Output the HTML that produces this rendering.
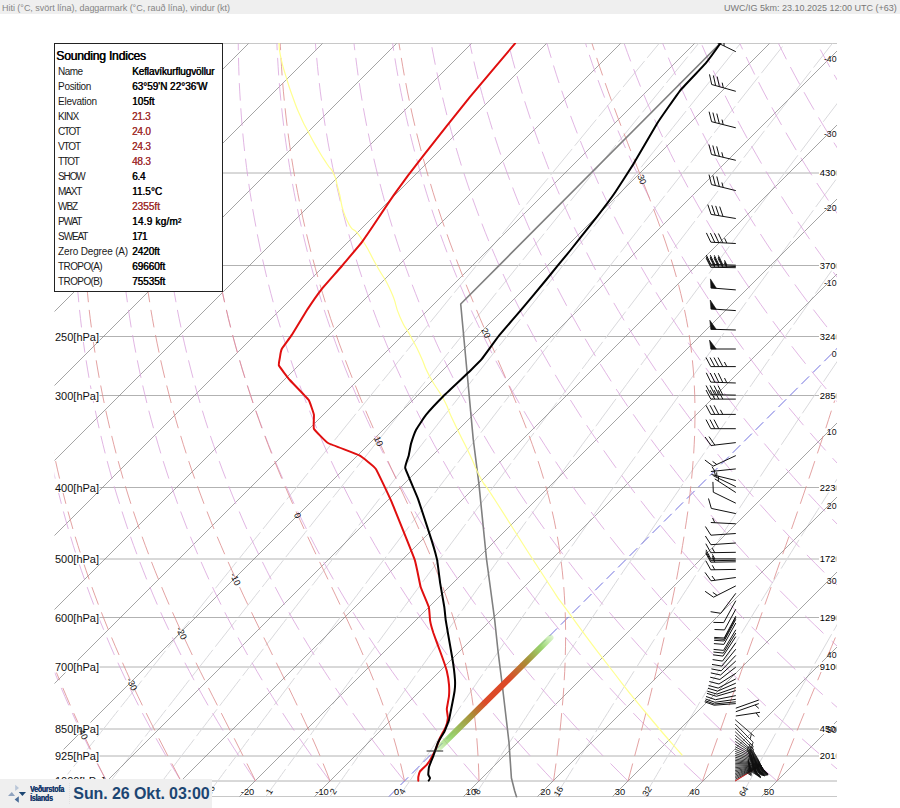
<!DOCTYPE html>
<html><head><meta charset="utf-8"><title>Skew-T</title>
<style>
html,body{margin:0;padding:0;background:#fff;}
body{width:900px;height:808px;position:relative;overflow:hidden;font-family:"Liberation Sans",sans-serif;}
#top{position:absolute;left:0;top:0;width:900px;height:14px;background:#efefef;}
#top span{position:absolute;font-size:9px;line-height:12px;white-space:nowrap;}
#top .l{left:2px;top:1.58px;color:#858585;letter-spacing:-0.029px;}
#top .r{left:724px;top:1.58px;color:#777;letter-spacing:-0.001px;}
svg{position:absolute;left:0;top:0;}
#box{position:absolute;left:54px;top:43px;width:166.5px;height:246.6px;border:1px solid #222;background:#fff;}
.t{position:absolute;white-space:nowrap;font-size:10px;line-height:15px;color:#1a1a1a;}
.t.v{color:#000;text-shadow:0.5px 0 0 #000;}
.t.v.r{color:#a03030;text-shadow:0.3px 0 0 #a03030;}
.t.ttl{font-size:12.2px;line-height:16px;color:#000;text-shadow:0.5px 0 0 #000;}
#foot{position:absolute;left:0;top:779.3px;width:212px;height:29px;background:#efefef;}
#foot .n{position:absolute;left:30px;top:5.7px;font-size:8.6px;line-height:9.4px;font-weight:bold;color:#15396a;text-shadow:0.3px 0 0 #15396a;letter-spacing:-0.3px;transform:scaleX(0.82);transform-origin:0 0;white-space:nowrap;}
#foot .d{position:absolute;left:73.3px;top:4.46px;font-size:16px;line-height:20px;font-weight:bold;color:#1c4673;white-space:nowrap;letter-spacing:-0.085px;}
#foot .sep{position:absolute;left:69px;top:4px;height:21px;width:0;border-left:1px dotted #e0e0e0;}
</style></head><body>
<div id="top"><span class="l">Hiti (°C, svört lína), daggarmark (°C, rauð lína), vindur (kt)</span><span class="r">UWC/IG 5km: 23.10.2025 12:00 UTC (+63)</span></div>
<svg width="900" height="808" viewBox="0 0 900 808">
<defs>
<clipPath id="pc"><rect x="54.5" y="43" width="782.5" height="754.5"/></clipPath>
<clipPath id="pc2"><rect x="54.5" y="43" width="822.5" height="754.5"/></clipPath>
<clipPath id="pc3"><rect x="800" y="40" width="36.3" height="760"/></clipPath>
<clipPath id="bands"><rect x="54.5" y="763.5" width="782.5" height="17.5"/><rect x="54.5" y="738.3" width="782.5" height="17.5"/><rect x="54.5" y="713.1" width="782.5" height="17.5"/><rect x="54.5" y="687.9" width="782.5" height="17.5"/><rect x="54.5" y="662.7" width="782.5" height="17.5"/><rect x="54.5" y="637.5" width="782.5" height="17.5"/><rect x="54.5" y="612.3" width="782.5" height="17.5"/><rect x="54.5" y="587.1" width="782.5" height="17.5"/><rect x="54.5" y="561.9" width="782.5" height="17.5"/><rect x="54.5" y="536.7" width="782.5" height="17.5"/><rect x="54.5" y="511.5" width="782.5" height="17.5"/><rect x="54.5" y="486.3" width="782.5" height="17.5"/><rect x="54.5" y="461.1" width="782.5" height="17.5"/><rect x="54.5" y="435.9" width="782.5" height="17.5"/><rect x="54.5" y="410.7" width="782.5" height="17.5"/><rect x="54.5" y="385.5" width="782.5" height="17.5"/><rect x="54.5" y="360.3" width="782.5" height="17.5"/><rect x="54.5" y="335.1" width="782.5" height="17.5"/><rect x="54.5" y="309.9" width="782.5" height="17.5"/><rect x="54.5" y="284.7" width="782.5" height="17.5"/><rect x="54.5" y="259.5" width="782.5" height="17.5"/><rect x="54.5" y="234.3" width="782.5" height="17.5"/><rect x="54.5" y="209.1" width="782.5" height="17.5"/><rect x="54.5" y="183.9" width="782.5" height="17.5"/><rect x="54.5" y="158.7" width="782.5" height="17.5"/><rect x="54.5" y="133.5" width="782.5" height="17.5"/><rect x="54.5" y="108.3" width="782.5" height="17.5"/><rect x="54.5" y="83.1" width="782.5" height="17.5"/><rect x="54.5" y="57.9" width="782.5" height="17.5"/><rect x="54.5" y="43.5" width="782.5" height="6.7"/></clipPath>
<linearGradient id="gr" gradientUnits="userSpaceOnUse" x1="436.7" y1="750.3" x2="552.6" y2="635.6">
<stop offset="0" stop-color="#9be070" stop-opacity="0.35"/>
<stop offset="0.12" stop-color="#8fd060" stop-opacity="0.9"/>
<stop offset="0.3" stop-color="#a89038"/>
<stop offset="0.42" stop-color="#dc4a28"/>
<stop offset="0.62" stop-color="#dc4a28"/>
<stop offset="0.78" stop-color="#a89038"/>
<stop offset="0.9" stop-color="#8fd060" stop-opacity="0.9"/>
<stop offset="1" stop-color="#9be070" stop-opacity="0.3"/>
</linearGradient>
</defs>
<g clip-path="url(#pc)">
<g stroke="#b2b2b2" stroke-width="1" fill="none">
<path d="M54.5 173 H837"/>
<path d="M54.5 265.5 H837"/>
<path d="M54.5 336.5 H837"/>
<path d="M54.5 395.5 H837"/>
<path d="M54.5 487.5 H837"/>
<path d="M54.5 559 H837"/>
<path d="M54.5 617.5 H837"/>
<path d="M54.5 667 H837"/>
<path d="M54.5 729 H837"/>
<path d="M54.5 756 H837"/>
<path d="M54.5 781 H837"/>
</g>
<path d="M54.5 43.5 H837" stroke="#c8c8c8" stroke-width="1"/>
<path d="M54.5 796.5 H837" stroke="#c8c8c8" stroke-width="1"/>
<g stroke="#d9d9dc" stroke-width="1" fill="none" stroke-dasharray="34 4">
<path d="M50 796.6 L52.4 793.6 L54.8 790.5 L57.3 787.3 L59.8 784.2 L62.3 781 L64.8 777.8 L67.4 774.5 L70 771.2 L72.6 767.9 L75.3 764.6 L78 761.2 L80.7 757.8 L83.4 754.3 L86.2 750.8 L89 747.3 L91.8 743.7 L94.7 740.1 L97.6 736.4 L100.5 732.7 L103.5 728.9 L106.5 725.2 L109.5 721.3 L112.6 717.4 L115.7 713.5 L118.9 709.5 L122 705.5 L125.3 701.4 L128.6 697.3 L131.9 693.1 L135.3 688.9 L138.7 684.6 L142.1 680.2 L145.7 675.8 L149.2 671.3 L152.8 666.8 L156.5 662.1 L160.2 657.5 L164 652.7 L167.8 647.9 L171.7 643 L175.7 638.1 L179.7 633 L183.8 627.9 L188 622.7 L192.2 617.4 L196.5 612 L200.9 606.5 L205.3 601 L209.9 595.3 L214.5 589.5 L219.2 583.6 L224 577.6 L228.9 571.5 L233.8 565.3 L238.9 559 L244.1 552.5 L249.4 545.9 L254.8 539.2 L260.4 532.3 L266 525.2 L271.8 518 L277.7 510.7 L283.8 503.1 L290 495.4 L296.4 487.5 L302.9 479.4 L309.6 471.1 L316.5 462.5 L323.6 453.8 L330.9 444.7 L338.4 435.5 L346.1 425.9 L354.1 416 L362.3 405.9 L370.8 395.4 L379.6 384.5 L388.8 373.3 L398.2 361.6 L408 349.5 L418.3 337 L428.9 323.9 L440 310.3 L451.6 296 L463.8 281.1 L476.5 265.5 L490 249.1 L504.1 231.8 L519.1 213.4 L535 194 L552 173.4 L570.2 151.3 L589.7 127.5 L610.8 101.9 L633.8 74 L659.1 43.5"/>
<path d="M98.6 796.6 L101 793.6 L103.4 790.5 L105.8 787.3 L108.2 784.2 L110.7 781 L113.2 777.8 L115.7 774.5 L118.3 771.2 L120.8 767.9 L123.4 764.6 L126.1 761.2 L128.7 757.8 L131.4 754.3 L134.1 750.8 L136.9 747.3 L139.7 743.7 L142.5 740.1 L145.3 736.4 L148.2 732.7 L151.1 728.9 L154.1 725.2 L157.1 721.3 L160.1 717.4 L163.1 713.5 L166.2 709.5 L169.4 705.5 L172.6 701.4 L175.8 697.3 L179.1 693.1 L182.4 688.9 L185.7 684.6 L189.1 680.2 L192.6 675.8 L196.1 671.3 L199.6 666.8 L203.3 662.1 L206.9 657.5 L210.6 652.7 L214.4 647.9 L218.2 643 L222.1 638.1 L226.1 633 L230.1 627.9 L234.2 622.7 L238.4 617.4 L242.6 612 L246.9 606.5 L251.3 601 L255.7 595.3 L260.3 589.5 L264.9 583.6 L269.6 577.6 L274.4 571.5 L279.3 565.3 L284.3 559 L289.4 552.5 L294.6 545.9 L300 539.2 L305.4 532.3 L311 525.2 L316.7 518 L322.5 510.7 L328.5 503.1 L334.6 495.4 L340.9 487.5 L347.3 479.4 L353.9 471.1 L360.7 462.5 L367.7 453.8 L374.8 444.7 L382.2 435.5 L389.9 425.9 L397.7 416 L405.8 405.9 L414.2 395.4 L422.9 384.5 L431.9 373.3 L441.2 361.6 L450.9 349.5 L460.9 337 L471.4 323.9 L482.4 310.3 L493.8 296 L505.8 281.1 L518.4 265.5 L531.6 249.1 L545.6 231.8 L560.4 213.4 L576.1 194 L592.8 173.4 L610.8 151.3 L630.1 127.5 L650.9 101.9 L673.6 74 L698.5 43.5"/>
<path d="M150.5 796.6 L152.8 793.6 L155.2 790.5 L157.6 787.3 L160 784.2 L162.4 781 L164.8 777.8 L167.3 774.5 L169.8 771.2 L172.3 767.9 L174.9 764.6 L177.4 761.2 L180 757.8 L182.7 754.3 L185.3 750.8 L188 747.3 L190.8 743.7 L193.5 740.1 L196.3 736.4 L199.1 732.7 L202 728.9 L204.9 725.2 L207.8 721.3 L210.8 717.4 L213.8 713.5 L216.8 709.5 L219.9 705.5 L223 701.4 L226.2 697.3 L229.4 693.1 L232.6 688.9 L235.9 684.6 L239.3 680.2 L242.7 675.8 L246.1 671.3 L249.6 666.8 L253.1 662.1 L256.7 657.5 L260.4 652.7 L264.1 647.9 L267.8 643 L271.7 638.1 L275.5 633 L279.5 627.9 L283.5 622.7 L287.6 617.4 L291.7 612 L295.9 606.5 L300.2 601 L304.6 595.3 L309.1 589.5 L313.6 583.6 L318.3 577.6 L323 571.5 L327.8 565.3 L332.7 559 L337.7 552.5 L342.8 545.9 L348.1 539.2 L353.4 532.3 L358.9 525.2 L364.5 518 L370.2 510.7 L376.1 503.1 L382.1 495.4 L388.3 487.5 L394.6 479.4 L401.1 471.1 L407.7 462.5 L414.6 453.8 L421.7 444.7 L428.9 435.5 L436.4 425.9 L444.1 416 L452.1 405.9 L460.4 395.4 L468.9 384.5 L477.7 373.3 L486.9 361.6 L496.4 349.5 L506.3 337 L516.7 323.9 L527.4 310.3 L538.7 296 L550.5 281.1 L562.9 265.5 L575.9 249.1 L589.7 231.8 L604.3 213.4 L619.7 194 L636.2 173.4 L653.9 151.3 L672.9 127.5 L693.4 101.9 L715.8 74 L740.4 43.5"/>
<path d="M206.1 796.6 L208.4 793.6 L210.7 790.5 L213 787.3 L215.3 784.2 L217.7 781 L220.1 777.8 L222.5 774.5 L224.9 771.2 L227.4 767.9 L229.9 764.6 L232.4 761.2 L235 757.8 L237.5 754.3 L240.1 750.8 L242.8 747.3 L245.4 743.7 L248.1 740.1 L250.9 736.4 L253.6 732.7 L256.4 728.9 L259.3 725.2 L262.1 721.3 L265 717.4 L268 713.5 L270.9 709.5 L273.9 705.5 L277 701.4 L280.1 697.3 L283.2 693.1 L286.4 688.9 L289.6 684.6 L292.9 680.2 L296.2 675.8 L299.6 671.3 L303 666.8 L306.4 662.1 L310 657.5 L313.5 652.7 L317.2 647.9 L320.8 643 L324.6 638.1 L328.4 633 L332.2 627.9 L336.2 622.7 L340.2 617.4 L344.2 612 L348.4 606.5 L352.6 601 L356.9 595.3 L361.2 589.5 L365.7 583.6 L370.2 577.6 L374.9 571.5 L379.6 565.3 L384.4 559 L389.3 552.5 L394.3 545.9 L399.4 539.2 L404.7 532.3 L410.1 525.2 L415.5 518 L421.2 510.7 L426.9 503.1 L432.8 495.4 L438.8 487.5 L445 479.4 L451.4 471.1 L458 462.5 L464.7 453.8 L471.6 444.7 L478.7 435.5 L486.1 425.9 L493.7 416 L501.5 405.9 L509.6 395.4 L518 384.5 L526.6 373.3 L535.6 361.6 L545 349.5 L554.7 337 L564.9 323.9 L575.4 310.3 L586.5 296 L598.1 281.1 L610.3 265.5 L623.1 249.1 L636.6 231.8 L650.9 213.4 L666.2 194 L682.4 173.4 L699.8 151.3 L718.4 127.5 L738.7 101.9 L760.7 74 L784.9 43.5"/>
<path d="M265.7 796.6 L268 793.6 L270.2 790.5 L272.4 787.3 L274.7 784.2 L277 781 L279.4 777.8 L281.7 774.5 L284.1 771.2 L286.5 767.9 L288.9 764.6 L291.4 761.2 L293.9 757.8 L296.4 754.3 L298.9 750.8 L301.5 747.3 L304.1 743.7 L306.7 740.1 L309.4 736.4 L312.1 732.7 L314.8 728.9 L317.5 725.2 L320.3 721.3 L323.2 717.4 L326 713.5 L328.9 709.5 L331.9 705.5 L334.8 701.4 L337.9 697.3 L340.9 693.1 L344 688.9 L347.2 684.6 L350.4 680.2 L353.6 675.8 L356.9 671.3 L360.2 666.8 L363.6 662.1 L367 657.5 L370.5 652.7 L374 647.9 L377.6 643 L381.3 638.1 L385 633 L388.8 627.9 L392.6 622.7 L396.5 617.4 L400.5 612 L404.5 606.5 L408.6 601 L412.8 595.3 L417.1 589.5 L421.4 583.6 L425.9 577.6 L430.4 571.5 L435 565.3 L439.7 559 L444.5 552.5 L449.4 545.9 L454.4 539.2 L459.5 532.3 L464.8 525.2 L470.2 518 L475.6 510.7 L481.3 503.1 L487 495.4 L492.9 487.5 L499 479.4 L505.2 471.1 L511.6 462.5 L518.2 453.8 L525 444.7 L532 435.5 L539.2 425.9 L546.6 416 L554.3 405.9 L562.2 395.4 L570.4 384.5 L578.9 373.3 L587.7 361.6 L596.9 349.5 L606.4 337 L616.3 323.9 L626.7 310.3 L637.6 296 L648.9 281.1 L660.9 265.5 L673.4 249.1 L686.7 231.8 L700.8 213.4 L715.7 194 L731.6 173.4 L748.7 151.3 L767 127.5 L786.9 101.9 L808.5 74 L832.3 43.5"/>
<path d="M329.9 796.6 L332.1 793.6 L334.2 790.5 L336.4 787.3 L338.6 784.2 L340.9 781 L343.1 777.8 L345.4 774.5 L347.7 771.2 L350.1 767.9 L352.4 764.6 L354.8 761.2 L357.2 757.8 L359.6 754.3 L362.1 750.8 L364.6 747.3 L367.1 743.7 L369.7 740.1 L372.3 736.4 L374.9 732.7 L377.5 728.9 L380.2 725.2 L382.9 721.3 L385.7 717.4 L388.5 713.5 L391.3 709.5 L394.1 705.5 L397 701.4 L400 697.3 L402.9 693.1 L405.9 688.9 L409 684.6 L412.1 680.2 L415.2 675.8 L418.4 671.3 L421.7 666.8 L425 662.1 L428.3 657.5 L431.7 652.7 L435.1 647.9 L438.6 643 L442.2 638.1 L445.8 633 L449.5 627.9 L453.2 622.7 L457 617.4 L460.9 612 L464.8 606.5 L468.8 601 L472.9 595.3 L477 589.5 L481.3 583.6 L485.6 577.6 L490 571.5 L494.5 565.3 L499 559 L503.7 552.5 L508.5 545.9 L513.4 539.2 L518.4 532.3 L523.5 525.2 L528.7 518 L534.1 510.7 L539.6 503.1 L545.2 495.4 L550.9 487.5 L556.9 479.4 L562.9 471.1 L569.2 462.5 L575.6 453.8 L582.2 444.7 L589 435.5 L596.1 425.9 L603.3 416 L610.8 405.9 L618.5 395.4 L626.5 384.5 L634.8 373.3 L643.4 361.6 L652.4 349.5 L661.7 337 L671.4 323.9 L681.6 310.3 L692.2 296 L703.3 281.1 L715 265.5 L727.3 249.1 L740.2 231.8 L754 213.4 L768.6 194 L784.2 173.4 L800.9 151.3 L818.9 127.5 L838.4 101.9 L859.6 74 L882.9 43.5"/>
<path d="M399.2 796.6 L401.2 793.6 L403.3 790.5 L405.4 787.3 L407.6 784.2 L409.7 781 L411.9 777.8 L414.1 774.5 L416.4 771.2 L418.6 767.9 L420.9 764.6 L423.2 761.2 L425.5 757.8 L427.9 754.3 L430.3 750.8 L432.7 747.3 L435.1 743.7 L437.6 740.1 L440.1 736.4 L442.6 732.7 L445.2 728.9 L447.8 725.2 L450.4 721.3 L453 717.4 L455.7 713.5 L458.5 709.5 L461.2 705.5 L464 701.4 L466.9 697.3 L469.7 693.1 L472.7 688.9 L475.6 684.6 L478.6 680.2 L481.7 675.8 L484.7 671.3 L487.9 666.8 L491.1 662.1 L494.3 657.5 L497.6 652.7 L500.9 647.9 L504.3 643 L507.7 638.1 L511.2 633 L514.8 627.9 L518.4 622.7 L522.1 617.4 L525.8 612 L529.7 606.5 L533.5 601 L537.5 595.3 L541.5 589.5 L545.6 583.6 L549.8 577.6 L554.1 571.5 L558.4 565.3 L562.9 559 L567.4 552.5 L572.1 545.9 L576.8 539.2 L581.7 532.3 L586.6 525.2 L591.7 518 L596.9 510.7 L602.2 503.1 L607.7 495.4 L613.3 487.5 L619 479.4 L624.9 471.1 L631 462.5 L637.3 453.8 L643.7 444.7 L650.3 435.5 L657.1 425.9 L664.2 416 L671.5 405.9 L679 395.4 L686.8 384.5 L694.9 373.3 L703.3 361.6 L712 349.5 L721.1 337 L730.5 323.9 L740.4 310.3 L750.7 296 L761.6 281.1 L773 265.5 L785 249.1 L797.6 231.8 L811 213.4 L825.3 194 L840.5 173.4 L856.8 151.3 L874.4 127.5 L893.4 101.9 L914.2 74 L937 43.5"/>
<path d="M474.1 796.6 L476.1 793.6 L478.1 790.5 L480.1 787.3 L482.2 784.2 L484.2 781 L486.3 777.8 L488.5 774.5 L490.6 771.2 L492.8 767.9 L494.9 764.6 L497.2 761.2 L499.4 757.8 L501.7 754.3 L504 750.8 L506.3 747.3 L508.6 743.7 L511 740.1 L513.4 736.4 L515.8 732.7 L518.3 728.9 L520.8 725.2 L523.3 721.3 L525.9 717.4 L528.4 713.5 L531.1 709.5 L533.7 705.5 L536.4 701.4 L539.2 697.3 L541.9 693.1 L544.7 688.9 L547.6 684.6 L550.5 680.2 L553.4 675.8 L556.4 671.3 L559.4 666.8 L562.5 662.1 L565.6 657.5 L568.7 652.7 L572 647.9 L575.2 643 L578.5 638.1 L581.9 633 L585.3 627.9 L588.8 622.7 L592.4 617.4 L596 612 L599.7 606.5 L603.4 601 L607.2 595.3 L611.1 589.5 L615.1 583.6 L619.1 577.6 L623.2 571.5 L627.5 565.3 L631.8 559 L636.1 552.5 L640.6 545.9 L645.2 539.2 L649.9 532.3 L654.7 525.2 L659.6 518 L664.6 510.7 L669.8 503.1 L675.1 495.4 L680.5 487.5 L686 479.4 L691.8 471.1 L697.6 462.5 L703.7 453.8 L709.9 444.7 L716.3 435.5 L722.9 425.9 L729.8 416 L736.8 405.9 L744.1 395.4 L751.7 384.5 L759.5 373.3 L767.6 361.6 L776.1 349.5 L784.9 337 L794.1 323.9 L803.7 310.3 L813.7 296 L824.2 281.1 L835.3 265.5 L847 249.1 L859.3 231.8 L872.3 213.4 L886.2 194 L901 173.4 L916.9 151.3 L934 127.5 L952.5 101.9 L972.8 74 L995 43.5"/>
<path d="M555.4 796.6 L557.3 793.6 L559.2 790.5 L561.2 787.3 L563.1 784.2 L565.1 781 L567.1 777.8 L569.1 774.5 L571.2 771.2 L573.2 767.9 L575.3 764.6 L577.4 761.2 L579.6 757.8 L581.7 754.3 L583.9 750.8 L586.1 747.3 L588.4 743.7 L590.6 740.1 L592.9 736.4 L595.2 732.7 L597.6 728.9 L600 725.2 L602.4 721.3 L604.8 717.4 L607.3 713.5 L609.8 709.5 L612.3 705.5 L614.9 701.4 L617.5 697.3 L620.2 693.1 L622.9 688.9 L625.6 684.6 L628.4 680.2 L631.2 675.8 L634 671.3 L636.9 666.8 L639.8 662.1 L642.8 657.5 L645.8 652.7 L648.9 647.9 L652 643 L655.2 638.1 L658.4 633 L661.7 627.9 L665.1 622.7 L668.5 617.4 L671.9 612 L675.5 606.5 L679.1 601 L682.7 595.3 L686.5 589.5 L690.3 583.6 L694.1 577.6 L698.1 571.5 L702.1 565.3 L706.3 559 L710.5 552.5 L714.8 545.9 L719.2 539.2 L723.7 532.3 L728.3 525.2 L733 518 L737.8 510.7 L742.8 503.1 L747.9 495.4 L753.1 487.5 L758.4 479.4 L763.9 471.1 L769.6 462.5 L775.4 453.8 L781.4 444.7 L787.6 435.5 L794 425.9 L800.5 416 L807.4 405.9 L814.4 395.4 L821.7 384.5 L829.2 373.3 L837.1 361.6 L845.3 349.5 L853.8 337 L862.6 323.9 L871.9 310.3 L881.6 296 L891.8 281.1 L902.5 265.5 L913.8 249.1 L925.7 231.8 L938.3 213.4 L951.8 194 L966.1 173.4 L981.5 151.3 L998.1 127.5 L1016.1 101.9 L1035.7 74 L1057.3 43.5"/>
<path d="M644.1 796.6 L645.8 793.6 L647.7 790.5 L649.5 787.3 L651.3 784.2 L653.2 781 L655.1 777.8 L657 774.5 L658.9 771.2 L660.9 767.9 L662.8 764.6 L664.8 761.2 L666.8 757.8 L668.9 754.3 L671 750.8 L673 747.3 L675.2 743.7 L677.3 740.1 L679.5 736.4 L681.7 732.7 L683.9 728.9 L686.1 725.2 L688.4 721.3 L690.7 717.4 L693.1 713.5 L695.5 709.5 L697.9 705.5 L700.3 701.4 L702.8 697.3 L705.3 693.1 L707.8 688.9 L710.4 684.6 L713 680.2 L715.7 675.8 L718.4 671.3 L721.1 666.8 L723.9 662.1 L726.8 657.5 L729.6 652.7 L732.6 647.9 L735.5 643 L738.5 638.1 L741.6 633 L744.7 627.9 L747.9 622.7 L751.2 617.4 L754.4 612 L757.8 606.5 L761.2 601 L764.7 595.3 L768.3 589.5 L771.9 583.6 L775.6 577.6 L779.3 571.5 L783.2 565.3 L787.1 559 L791.1 552.5 L795.2 545.9 L799.4 539.2 L803.7 532.3 L808.1 525.2 L812.6 518 L817.3 510.7 L822 503.1 L826.8 495.4 L831.8 487.5 L836.9 479.4 L842.2 471.1 L847.6 462.5 L853.2 453.8 L858.9 444.7 L864.8 435.5 L870.9 425.9 L877.2 416 L883.7 405.9 L890.5 395.4 L897.5 384.5 L904.7 373.3 L912.3 361.6 L920.1 349.5 L928.3 337 L936.8 323.9 L945.7 310.3 L955 296 L964.8 281.1 L975.1 265.5 L986 249.1 L997.4 231.8 L1009.6 213.4 L1022.6 194 L1036.4 173.4 L1051.3 151.3 L1067.3 127.5 L1084.7 101.9 L1103.6 74 L1124.5 43.5"/>
<path d="M741 796.6 L742.6 793.6 L744.3 790.5 L746 787.3 L747.8 784.2 L749.5 781 L751.3 777.8 L753 774.5 L754.8 771.2 L756.6 767.9 L758.5 764.6 L760.3 761.2 L762.2 757.8 L764.1 754.3 L766.1 750.8 L768 747.3 L770 743.7 L772 740.1 L774 736.4 L776.1 732.7 L778.2 728.9 L780.3 725.2 L782.4 721.3 L784.6 717.4 L786.8 713.5 L789 709.5 L791.2 705.5 L793.5 701.4 L795.9 697.3 L798.2 693.1 L800.6 688.9 L803 684.6 L805.5 680.2 L808 675.8 L810.5 671.3 L813.1 666.8 L815.7 662.1 L818.4 657.5 L821.1 652.7 L823.8 647.9 L826.6 643 L829.4 638.1 L832.3 633 L835.3 627.9 L838.2 622.7 L841.3 617.4 L844.4 612 L847.6 606.5 L850.8 601 L854.1 595.3 L857.4 589.5 L860.8 583.6 L864.3 577.6 L867.9 571.5 L871.5 565.3 L875.2 559 L879 552.5 L882.9 545.9 L886.8 539.2 L890.9 532.3 L895.1 525.2 L899.3 518 L903.7 510.7 L908.2 503.1 L912.8 495.4 L917.5 487.5 L922.3 479.4 L927.3 471.1 L932.4 462.5 L937.7 453.8 L943.2 444.7 L948.8 435.5 L954.6 425.9 L960.6 416 L966.8 405.9 L973.2 395.4 L979.8 384.5 L986.7 373.3 L993.9 361.6 L1001.4 349.5 L1009.1 337 L1017.3 323.9 L1025.8 310.3 L1034.7 296 L1044 281.1 L1053.8 265.5 L1064.2 249.1 L1075.2 231.8 L1086.8 213.4 L1099.2 194 L1112.5 173.4 L1126.8 151.3 L1142.1 127.5 L1158.8 101.9 L1177 74 L1197.1 43.5"/>
</g>
<g stroke="#7e7e7e" stroke-width="0.7" fill="none">
<path d="M-802.5 796.5 L-49.5 43.5"/>
<path d="M-728.5 796.5 L24.5 43.5"/>
<path d="M-654.5 796.5 L98.5 43.5"/>
<path d="M-579.5 796.5 L173.5 43.5"/>
<path d="M-504.5 796.5 L248.5 43.5"/>
<path d="M-430.5 796.5 L322.5 43.5"/>
<path d="M-356.5 796.5 L396.5 43.5"/>
<path d="M-281.5 796.5 L471.5 43.5"/>
<path d="M-206.5 796.5 L546.5 43.5"/>
<path d="M-132.5 796.5 L620.5 43.5"/>
<path d="M-58.5 796.5 L694.5 43.5"/>
<path d="M16.5 796.5 L769.5 43.5"/>
<path d="M91.5 796.5 L844.5 43.5"/>
<path d="M165.5 796.5 L918.5 43.5"/>
<path d="M239.5 796.5 L992.5 43.5"/>
<path d="M314.5 796.5 L1067.5 43.5"/>
<path d="M463.5 796.5 L1216.5 43.5"/>
<path d="M537.5 796.5 L1290.5 43.5"/>
<path d="M612.5 796.5 L1365.5 43.5"/>
<path d="M687.5 796.5 L1440.5 43.5"/>
<path d="M761.5 796.5 L1514.5 43.5"/>
</g>
<path d="M389 796.5 L1142 43.5" stroke="#7272e0" stroke-width="1" stroke-dasharray="11 5.2" fill="none"/>
<g stroke="#d9a3dc" stroke-width="0.8" fill="none">
<path d="M106.5 781 Q101.7 772.2 97.1 763.5 M93.1 755.8 Q88.6 747 84.3 738.3 M80.5 730.6 Q76.3 721.9 72.3 713.1 M68.8 705.4 Q64.9 696.6 61.2 687.9 M57.9 680.2 Q54.3 671.5 50.9 662.7 M47.9 655 Q44.5 646.2 41.3 637.5 M38.6 629.8 Q35.5 621 32.5 612.3 M30 604.6 Q27.2 595.9 24.5 587.1 M22.2 579.4 Q19.7 570.6 17.3 561.9 M15.2 554.2 Q12.9 545.5 10.7 536.7 M8.8 529 Q6.8 520.2 4.9 511.5 M3.2 503.8 Q1.4 495.1 -0.3 486.3 M-1.7 478.6 Q-3.4 469.9 -4.8 461.1 M-6 453.4 Q-7.4 444.7 -8.6 435.9 M-9.7 428.2 Q-10.8 419.4 -11.8 410.7 M-12.6 403 Q-13.6 394.2 -14.3 385.5 M-15 377.8 Q-15.7 369.1 -16.3 360.3 M-16.7 352.6 Q-17.2 343.9 -17.6 335.1 M-17.9 327.4 Q-18.2 318.7 -18.3 309.9 M-18.4 302.2 Q-18.5 293.4 -18.5 284.7 M-18.4 277 Q-18.3 268.2 -18.1 259.5 M-17.9 251.8 Q-17.6 243.1 -17.1 234.3 M-16.7 226.6 Q-16.3 217.9 -15.7 209.1 M-15.1 201.4 Q-14.4 192.6 -13.6 183.9 M-12.9 176.2 Q-12.1 167.5 -11.1 158.7 M-10.2 151 Q-9.2 142.2 -8.1 133.5 M-7 125.8 Q-5.8 117.1 -4.5 108.3 M-3.4 100.6 Q-2 91.9 -0.5 83.1 M0.8 75.4 Q2.3 66.6 4 57.9 M5.4 50.2 Q6.1 46.9 6.7 43.5"/>
<path d="M181 781 Q175.6 772.2 170.4 763.5 M165.9 755.8 Q160.9 747 156 738.3 M151.8 730.6 Q147 721.9 142.4 713.1 M138.5 705.4 Q134 696.6 129.7 687.9 M126 680.2 Q121.9 671.5 117.9 662.7 M114.4 655 Q110.5 646.2 106.9 637.5 M103.7 629.8 Q100 621 96.6 612.3 M93.7 604.6 Q90.3 595.9 87.2 587.1 M84.5 579.4 Q81.4 570.6 78.5 561.9 M76 554.2 Q73.2 545.5 70.6 536.7 M68.3 529 Q65.8 520.2 63.4 511.5 M61.4 503.8 Q59.1 495.1 57 486.3 M55.1 478.6 Q53.1 469.9 51.2 461.1 M49.6 453.4 Q47.8 444.7 46.1 435.9 M44.7 428.2 Q43.2 419.4 41.8 410.7 M40.5 403 Q39.2 394.2 38 385.5 M37 377.8 Q35.9 369.1 34.9 360.3 M34.1 352.6 Q33.2 343.9 32.5 335.1 M31.8 327.4 Q31.1 318.7 30.6 309.9 M30.2 302.2 Q29.7 293.4 29.4 284.7 M29.1 277 Q28.8 268.2 28.7 259.5 M28.6 251.8 Q28.5 243.1 28.6 234.3 M28.7 226.6 Q28.8 217.9 29.1 209.1 M29.3 201.4 Q29.7 192.6 30.1 183.9 M30.5 176.2 Q31 167.5 31.7 158.7 M32.2 151 Q32.9 142.2 33.8 133.5 M34.5 125.8 Q35.4 117.1 36.4 108.3 M37.3 100.6 Q38.3 91.9 39.5 83.1 M40.5 75.4 Q41.7 66.6 43.1 57.9 M44.2 50.2 Q44.8 46.9 45.3 43.5"/>
<path d="M255.5 781 Q249.5 772.2 243.8 763.5 M238.8 755.8 Q233.1 747 227.7 738.3 M223 730.6 Q217.7 721.9 212.6 713.1 M208.1 705.4 Q203.1 696.6 198.3 687.9 M194.1 680.2 Q189.4 671.5 184.9 662.7 M181 655 Q176.6 646.2 172.4 637.5 M168.8 629.8 Q164.6 621 160.7 612.3 M157.3 604.6 Q153.5 595.9 149.9 587.1 M146.7 579.4 Q143.2 570.6 139.8 561.9 M136.9 554.2 Q133.6 545.5 130.5 536.7 M127.8 529 Q124.8 520.2 122 511.5 M119.6 503.8 Q116.8 495.1 114.2 486.3 M112 478.6 Q109.5 469.9 107.2 461.1 M105.2 453.4 Q103 444.7 100.9 435.9 M99.1 428.2 Q97.1 419.4 95.3 410.7 M93.7 403 Q92 394.2 90.4 385.5 M89 377.8 Q87.5 369.1 86.1 360.3 M84.9 352.6 Q83.6 343.9 82.5 335.1 M81.5 327.4 Q80.5 318.7 79.5 309.9 M78.8 302.2 Q77.9 293.4 77.2 284.7 M76.6 277 Q76 268.2 75.5 259.5 M75.1 251.8 Q74.6 243.1 74.4 234.3 M74.1 226.6 Q73.9 217.9 73.8 209.1 M73.8 201.4 Q73.7 192.6 73.8 183.9 M74 176.2 Q74.1 167.5 74.4 158.7 M74.7 151 Q75.1 142.2 75.6 133.5 M76 125.8 Q76.6 117.1 77.2 108.3 M77.9 100.6 Q78.6 91.9 79.4 83.1 M80.2 75.4 Q81.1 66.6 82.1 57.9 M83.1 50.2 Q83.5 46.9 83.9 43.5"/>
<path d="M330 781 Q323.4 772.2 317.1 763.5 M311.6 755.8 Q305.4 747 299.4 738.3 M294.2 730.6 Q288.3 721.9 282.7 713.1 M277.8 705.4 Q272.2 696.6 266.9 687.9 M262.2 680.2 Q257 671.5 252 662.7 M247.6 655 Q242.7 646.2 238 637.5 M233.9 629.8 Q229.2 621 224.8 612.3 M221 604.6 Q216.7 595.9 212.5 587.1 M208.9 579.4 Q204.9 570.6 201.1 561.9 M197.7 554.2 Q194 545.5 190.4 536.7 M187.3 529 Q183.9 520.2 180.6 511.5 M177.7 503.8 Q174.5 495.1 171.5 486.3 M168.9 478.6 Q166 469.9 163.2 461.1 M160.8 453.4 Q158.2 444.7 155.7 435.9 M153.5 428.2 Q151.1 419.4 148.8 410.7 M146.9 403 Q144.7 394.2 142.7 385.5 M141 377.8 Q139.1 369.1 137.3 360.3 M135.8 352.6 Q134.1 343.9 132.6 335.1 M131.2 327.4 Q129.8 318.7 128.5 309.9 M127.4 302.2 Q126.1 293.4 125.1 284.7 M124.1 277 Q123.1 268.2 122.3 259.5 M121.5 251.8 Q120.7 243.1 120.1 234.3 M119.6 226.6 Q119 217.9 118.5 209.1 M118.2 201.4 Q117.8 192.6 117.6 183.9 M117.4 176.2 Q117.2 167.5 117.2 158.7 M117.2 151 Q117.2 142.2 117.4 133.5 M117.6 125.8 Q117.8 117.1 118.1 108.3 M118.5 100.6 Q118.9 91.9 119.4 83.1 M119.9 75.4 Q120.5 66.6 121.2 57.9 M121.9 50.2 Q122.2 46.9 122.5 43.5"/>
<path d="M404.5 781 Q397.4 772.2 390.5 763.5 M384.5 755.8 Q377.7 747 371.2 738.3 M365.4 730.6 Q359 721.9 352.8 713.1 M347.4 705.4 Q341.3 696.6 335.4 687.9 M330.3 680.2 Q324.6 671.5 319 662.7 M314.2 655 Q308.7 646.2 303.5 637.5 M299 629.8 Q293.8 621 288.9 612.3 M284.6 604.6 Q279.8 595.9 275.2 587.1 M271.2 579.4 Q266.7 570.6 262.4 561.9 M258.6 554.2 Q254.4 545.5 250.3 536.7 M246.8 529 Q242.9 520.2 239.2 511.5 M235.9 503.8 Q232.3 495.1 228.8 486.3 M225.8 478.6 Q222.4 469.9 219.2 461.1 M216.5 453.4 Q213.4 444.7 210.4 435.9 M207.9 428.2 Q205 419.4 202.4 410.7 M200.1 403 Q197.5 394.2 195.1 385.5 M193 377.8 Q190.7 369.1 188.5 360.3 M186.6 352.6 Q184.5 343.9 182.6 335.1 M181 327.4 Q179.1 318.7 177.4 309.9 M176 302.2 Q174.4 293.4 172.9 284.7 M171.7 277 Q170.3 268.2 169.1 259.5 M168 251.8 Q166.9 243.1 165.8 234.3 M165 226.6 Q164.1 217.9 163.3 209.1 M162.6 201.4 Q161.9 192.6 161.3 183.9 M160.8 176.2 Q160.3 167.5 160 158.7 M159.7 151 Q159.4 142.2 159.2 133.5 M159.1 125.8 Q159 117.1 159 108.3 M159.1 100.6 Q159.2 91.9 159.4 83.1 M159.6 75.4 Q159.9 66.6 160.3 57.9 M160.7 50.2 Q160.9 46.9 161.1 43.5"/>
<path d="M479 781 Q471.3 772.2 463.8 763.5 M457.3 755.8 Q450 747 442.9 738.3 M436.7 730.6 Q429.7 721.9 422.9 713.1 M417 705.4 Q410.4 696.6 404 687.9 M398.4 680.2 Q392.1 671.5 386 662.7 M380.8 655 Q374.8 646.2 369.1 637.5 M364.1 629.8 Q358.4 621 353 612.3 M348.3 604.6 Q343 595.9 337.9 587.1 M333.4 579.4 Q328.4 570.6 323.6 561.9 M319.5 554.2 Q314.8 545.5 310.3 536.7 M306.4 529 Q302 520.2 297.8 511.5 M294.1 503.8 Q290 495.1 286.1 486.3 M282.7 478.6 Q278.9 469.9 275.2 461.1 M272.1 453.4 Q268.5 444.7 265.2 435.9 M262.3 428.2 Q259 419.4 255.9 410.7 M253.2 403 Q250.2 394.2 247.4 385.5 M245 377.8 Q242.2 369.1 239.7 360.3 M237.5 352.6 Q235 343.9 232.7 335.1 M230.7 327.4 Q228.4 318.7 226.4 309.9 M224.6 302.2 Q222.6 293.4 220.8 284.7 M219.2 277 Q217.4 268.2 215.8 259.5 M214.5 251.8 Q213 243.1 211.6 234.3 M210.4 226.6 Q209.1 217.9 208 209.1 M207 201.4 Q206 192.6 205.1 183.9 M204.3 176.2 Q203.4 167.5 202.7 158.7 M202.1 151 Q201.5 142.2 201 133.5 M200.6 125.8 Q200.2 117.1 199.9 108.3 M199.7 100.6 Q199.4 91.9 199.4 83.1 M199.3 75.4 Q199.3 66.6 199.4 57.9 M199.5 50.2 Q199.6 46.9 199.7 43.5"/>
<path d="M553.5 781 Q545.2 772.2 537.2 763.5 M530.2 755.8 Q522.2 747 514.6 738.3 M507.9 730.6 Q500.3 721.9 493.1 713.1 M486.7 705.4 Q479.5 696.6 472.6 687.9 M466.5 680.2 Q459.7 671.5 453.1 662.7 M447.3 655 Q440.9 646.2 434.6 637.5 M429.2 629.8 Q423 621 417.1 612.3 M411.9 604.6 Q406.1 595.9 400.5 587.1 M395.7 579.4 Q390.2 570.6 384.9 561.9 M380.3 554.2 Q375.1 545.5 370.2 536.7 M365.9 529 Q361 520.2 356.3 511.5 M352.3 503.8 Q347.7 495.1 343.4 486.3 M339.6 478.6 Q335.3 469.9 331.2 461.1 M327.7 453.4 Q323.7 444.7 320 435.9 M316.7 428.2 Q313 419.4 309.5 410.7 M306.4 403 Q303 394.2 299.8 385.5 M297 377.8 Q293.8 369.1 290.9 360.3 M288.3 352.6 Q285.4 343.9 282.7 335.1 M280.4 327.4 Q277.7 318.7 275.3 309.9 M273.2 302.2 Q270.8 293.4 268.6 284.7 M266.7 277 Q264.6 268.2 262.6 259.5 M260.9 251.8 Q259.1 243.1 257.3 234.3 M255.9 226.6 Q254.2 217.9 252.7 209.1 M251.5 201.4 Q250 192.6 248.8 183.9 M247.7 176.2 Q246.5 167.5 245.5 158.7 M244.6 151 Q243.6 142.2 242.8 133.5 M242.1 125.8 Q241.4 117.1 240.8 108.3 M240.3 100.6 Q239.7 91.9 239.3 83.1 M239 75.4 Q238.7 66.6 238.5 57.9 M238.3 50.2 Q238.3 46.9 238.3 43.5"/>
<path d="M628 781 Q619.1 772.2 610.5 763.5 M603 755.8 Q594.5 747 586.3 738.3 M579.1 730.6 Q571 721.9 563.2 713.1 M556.3 705.4 Q548.6 696.6 541.1 687.9 M534.6 680.2 Q527.2 671.5 520.1 662.7 M513.9 655 Q506.9 646.2 500.2 637.5 M494.3 629.8 Q487.6 621 481.2 612.3 M475.6 604.6 Q469.3 595.9 463.2 587.1 M457.9 579.4 Q451.9 570.6 446.2 561.9 M441.2 554.2 Q435.5 545.5 430.1 536.7 M425.4 529 Q420 520.2 414.9 511.5 M410.5 503.8 Q405.4 495.1 400.6 486.3 M396.5 478.6 Q391.8 469.9 387.2 461.1 M383.3 453.4 Q378.9 444.7 374.7 435.9 M371 428.2 Q366.9 419.4 363 410.7 M359.6 403 Q355.8 394.2 352.1 385.5 M349 377.8 Q345.4 369.1 342.1 360.3 M339.1 352.6 Q335.9 343.9 332.8 335.1 M330.1 327.4 Q327.1 318.7 324.2 309.9 M321.8 302.2 Q319 293.4 316.5 284.7 M314.2 277 Q311.7 268.2 309.4 259.5 M307.4 251.8 Q305.2 243.1 303.1 234.3 M301.3 226.6 Q299.3 217.9 297.5 209.1 M295.9 201.4 Q294.1 192.6 292.5 183.9 M291.2 176.2 Q289.6 167.5 288.3 158.7 M287.1 151 Q285.8 142.2 284.6 133.5 M283.7 125.8 Q282.6 117.1 281.7 108.3 M280.9 100.6 Q280 91.9 279.3 83.1 M278.7 75.4 Q278.1 66.6 277.6 57.9 M277.2 50.2 Q277 46.9 276.9 43.5"/>
<path d="M702.5 781 Q693 772.2 683.9 763.5 M675.8 755.8 Q666.8 747 658 738.3 M650.3 730.6 Q641.7 721.9 633.3 713.1 M626 705.4 Q617.7 696.6 609.7 687.9 M602.7 680.2 Q594.8 671.5 587.2 662.7 M580.5 655 Q573 646.2 565.7 637.5 M559.4 629.8 Q552.2 621 545.3 612.3 M539.2 604.6 Q532.4 595.9 525.9 587.1 M520.1 579.4 Q513.7 570.6 507.4 561.9 M502 554.2 Q495.9 545.5 490 536.7 M484.9 529 Q479.1 520.2 473.5 511.5 M468.6 503.8 Q463.2 495.1 457.9 486.3 M453.3 478.6 Q448.2 469.9 443.3 461.1 M439 453.4 Q434.1 444.7 429.5 435.9 M425.4 428.2 Q420.9 419.4 416.6 410.7 M412.8 403 Q408.5 394.2 404.5 385.5 M401 377.8 Q397 369.1 393.2 360.3 M390 352.6 Q386.3 343.9 382.8 335.1 M379.8 327.4 Q376.4 318.7 373.2 309.9 M370.4 302.2 Q367.3 293.4 364.3 284.7 M361.8 277 Q358.9 268.2 356.2 259.5 M353.9 251.8 Q351.3 243.1 348.8 234.3 M346.7 226.6 Q344.4 217.9 342.2 209.1 M340.3 201.4 Q338.2 192.6 336.3 183.9 M334.6 176.2 Q332.7 167.5 331 158.7 M329.6 151 Q327.9 142.2 326.5 133.5 M325.2 125.8 Q323.8 117.1 322.6 108.3 M321.5 100.6 Q320.3 91.9 319.3 83.1 M318.4 75.4 Q317.5 66.6 316.7 57.9 M316 50.2 Q315.7 46.9 315.4 43.5"/>
<path d="M777 781 Q767 772.2 757.2 763.5 M748.7 755.8 Q739.1 747 729.7 738.3 M721.6 730.6 Q712.4 721.9 703.4 713.1 M695.6 705.4 Q686.8 696.6 678.3 687.9 M670.8 680.2 Q662.4 671.5 654.2 662.7 M647.1 655 Q639 646.2 631.3 637.5 M624.5 629.8 Q616.8 621 609.4 612.3 M602.9 604.6 Q595.6 595.9 588.5 587.1 M582.4 579.4 Q575.4 570.6 568.7 561.9 M562.9 554.2 Q556.3 545.5 549.9 536.7 M544.4 529 Q538.1 520.2 532.1 511.5 M526.8 503.8 Q520.9 495.1 515.2 486.3 M510.2 478.6 Q504.6 469.9 499.3 461.1 M494.6 453.4 Q489.3 444.7 484.2 435.9 M479.8 428.2 Q474.9 419.4 470.1 410.7 M466 403 Q461.3 394.2 456.8 385.5 M453 377.8 Q448.6 369.1 444.4 360.3 M440.8 352.6 Q436.7 343.9 432.9 335.1 M429.5 327.4 Q425.7 318.7 422.1 309.9 M419 302.2 Q415.5 293.4 412.2 284.7 M409.3 277 Q406 268.2 403 259.5 M400.3 251.8 Q397.4 243.1 394.6 234.3 M392.2 226.6 Q389.5 217.9 386.9 209.1 M384.7 201.4 Q382.3 192.6 380 183.9 M378 176.2 Q375.8 167.5 373.8 158.7 M372 151 Q370.1 142.2 368.3 133.5 M366.7 125.8 Q365 117.1 363.4 108.3 M362.1 100.6 Q360.6 91.9 359.3 83.1 M358.1 75.4 Q356.9 66.6 355.8 57.9 M354.8 50.2 Q354.4 46.9 354 43.5"/>
<path d="M852.2 781.5 Q841.5 772.8 831.2 764 M822.2 756.3 Q812 747.6 802.1 738.8 M793.4 731.1 Q783.6 722.4 774.1 713.6 M765.8 705.9 Q756.5 697.2 747.4 688.4 M739.4 680.7 Q730.5 672 721.8 663.2 M714.2 655.5 Q705.6 646.8 697.3 638 M690.1 630.3 Q681.9 621.6 673.9 612.8 M667 605.1 Q659.2 596.4 651.7 587.6 M645.1 579.9 Q637.6 571.2 630.4 562.4 M624.2 554.7 Q617.1 546 610.2 537.2 M604.3 529.5 Q597.5 520.8 591.1 512 M585.4 504.3 Q579 495.6 572.9 486.8 M567.5 479.1 Q561.4 470.4 555.6 461.6 M550.5 453.9 Q544.8 445.2 539.3 436.4 M534.5 428.7 Q529.1 420 524 411.2 M519.4 403.5 Q514.4 394.8 509.5 386 M505.3 378.3 Q500.5 369.6 495.9 360.8 M491.9 353.1 Q487.5 344.4 483.2 335.6 M479.5 327.9 Q475.3 319.2 471.3 310.4 M467.8 302.7 Q463.9 294 460.2 285.2 M457 277.5 Q453.4 268.8 450 260 M447 252.3 Q443.7 243.6 440.5 234.8 M437.8 227.1 Q434.7 218.4 431.8 209.6 M429.3 201.9 Q426.5 193.2 423.9 184.4 M421.6 176.7 Q419.1 168 416.7 159.2 M414.6 151.5 Q412.3 142.8 410.2 134 M408.4 126.3 Q406.3 117.6 404.4 108.8 M402.8 101.1 Q401 92.4 399.3 83.6 M397.9 75.9 Q396.3 67.2 394.9 58.4 M393.7 50.7 Q393.2 47.1 392.6 43.5"/>
<path d="M851.5 719.9 Q841.3 711.1 831.5 702.4 M822.8 694.7 Q813.1 685.9 803.7 677.2 M795.4 669.5 Q786.1 660.7 777.1 652 M769.2 644.3 Q760.3 635.5 751.6 626.8 M744.1 619.1 Q735.6 610.3 727.3 601.6 M720.1 593.9 Q712 585.1 704.1 576.4 M697.2 568.7 Q689.5 559.9 682 551.2 M675.4 543.5 Q668 534.7 660.9 526 M654.6 518.3 Q647.6 509.5 640.8 500.8 M634.9 493.1 Q628.2 484.3 621.8 475.6 M616.1 467.9 Q609.8 459.1 603.7 450.4 M598.4 442.7 Q592.4 433.9 586.6 425.2 M581.5 417.5 Q575.9 408.7 570.4 400 M565.7 392.3 Q560.3 383.5 555.2 374.8 M550.7 367.1 Q545.6 358.3 540.8 349.6 M536.6 341.9 Q531.9 333.1 527.3 324.4 M523.4 316.7 Q519 307.9 514.7 299.2 M511 291.5 Q506.9 282.7 503 274 M499.5 266.3 Q495.7 257.5 492 248.8 M488.8 241.1 Q485.2 232.3 481.9 223.6 M478.9 215.9 Q475.6 207.1 472.5 198.4 M469.8 190.7 Q466.8 181.9 463.9 173.2 M461.4 165.5 Q458.7 156.7 456.1 148 M453.8 140.3 Q451.3 131.5 449 122.8 M446.9 115.1 Q444.7 106.3 442.6 97.6 M440.8 89.9 Q438.7 81.1 436.9 72.4 M435.3 64.7 Q433.5 55.9 431.9 47.2"/>
<path d="M850.8 658.6 Q841.1 649.8 831.7 641.1 M823.5 633.4 Q814.3 624.6 805.3 615.9 M797.5 608.2 Q788.6 599.4 780 590.7 M772.5 583 Q764.1 574.2 755.9 565.5 M748.7 557.8 Q740.7 549 732.8 540.3 M726 532.6 Q718.3 523.8 710.9 515.1 M704.4 507.4 Q697 498.6 689.9 489.9 M683.7 482.2 Q676.8 473.4 670 464.7 M664.1 457 Q657.5 448.2 651.1 439.5 M645.5 431.8 Q639.3 423 633.2 414.3 M627.9 406.6 Q622 397.8 616.2 389.1 M611.2 381.4 Q605.6 372.6 600.2 363.9 M595.5 356.2 Q590.2 347.4 585.1 338.7 M580.7 331 Q575.7 322.2 570.9 313.5 M566.7 305.8 Q562 297 557.5 288.3 M553.6 280.6 Q549.3 271.8 545.1 263.1 M541.4 255.4 Q537.3 246.6 533.4 237.9 M530 230.2 Q526.2 221.4 522.6 212.7 M519.5 205 Q515.9 196.2 512.6 187.5 M509.7 179.8 Q506.4 171 503.3 162.3 M500.7 154.6 Q497.7 145.8 494.9 137.1 M492.4 129.4 Q489.7 120.6 487.1 111.9 M484.9 104.2 Q482.4 95.4 480.1 86.7 M478.1 79 Q475.9 70.2 473.9 61.5 M472.1 53.8 Q470.9 48.6 469.8 43.5"/>
<path d="M850.1 597.6 Q840.9 588.8 832 580.1 M824.2 572.4 Q815.4 563.6 806.9 554.9 M799.5 547.2 Q791.1 538.4 783 529.7 M775.9 522 Q767.9 513.2 760.1 504.5 M753.4 496.8 Q745.7 488 738.3 479.3 M731.9 471.6 Q724.6 462.8 717.6 454.1 M711.5 446.4 Q704.5 437.6 697.9 428.9 M692 421.2 Q685.5 412.4 679.1 403.7 M673.6 396 Q667.4 387.2 661.4 378.5 M656.2 370.8 Q650.3 362 644.6 353.3 M639.7 345.6 Q634.1 336.8 628.7 328.1 M624.1 320.4 Q618.8 311.6 613.8 302.9 M609.4 295.2 Q604.5 286.4 599.7 277.7 M595.6 270 Q591 261.2 586.6 252.5 M582.7 244.8 Q578.4 236 574.2 227.3 M570.6 219.6 Q566.6 210.8 562.7 202.1 M559.4 194.4 Q555.6 185.6 552 176.9 M548.9 169.2 Q545.5 160.4 542.2 151.7 M539.3 144 Q536.1 135.2 533.1 126.5 M530.4 118.8 Q527.5 110 524.7 101.3 M522.3 93.6 Q519.6 84.8 517.1 76.1 M515 68.4 Q512.5 59.6 510.3 50.9"/>
<path d="M849.4 536.6 Q840.7 527.9 832.3 519.1 M824.9 511.4 Q816.6 502.7 808.5 493.9 M801.5 486.2 Q793.6 477.5 785.9 468.7 M779.2 461 Q771.6 452.3 764.3 443.5 M758 435.8 Q750.8 427.1 743.8 418.3 M737.7 410.6 Q730.9 401.9 724.3 393.1 M718.5 385.4 Q712 376.7 705.8 367.9 M700.3 360.2 Q694.2 351.5 688.2 342.7 M683.1 335 Q677.2 326.3 671.6 317.5 M666.8 309.8 Q661.3 301.1 656 292.3 M651.4 284.6 Q646.2 275.9 641.2 267.1 M636.9 259.4 Q632 250.7 627.3 241.9 M623.3 234.2 Q618.7 225.5 614.3 216.7 M610.5 209 Q606.3 200.3 602.2 191.5 M598.6 183.8 Q594.7 175.1 590.9 166.3 M587.6 158.6 Q583.9 149.9 580.4 141.1 M577.3 133.4 Q573.9 124.7 570.6 115.9 M567.8 108.2 Q564.7 99.5 561.7 90.7 M559.1 83 Q556.2 74.3 553.5 65.5 M551.2 57.8 Q549 50.7 547 43.5"/>
<path d="M848.7 475.6 Q840.5 466.8 832.5 458.1 M825.6 450.4 Q817.7 441.6 810.2 432.9 M803.5 425.2 Q796.1 416.4 788.8 407.7 M782.5 400 Q775.4 391.2 768.6 382.5 M762.6 374.8 Q755.8 366 749.3 357.3 M743.6 349.6 Q737.2 340.8 731 332.1 M725.6 324.4 Q719.6 315.6 713.7 306.9 M708.6 299.2 Q702.9 290.4 697.4 281.7 M692.5 274 Q687.1 265.2 681.9 256.5 M677.4 248.8 Q672.3 240 667.4 231.3 M663.1 223.6 Q658.3 214.8 653.7 206.1 M649.7 198.4 Q645.2 189.6 640.9 180.9 M637.2 173.2 Q633 164.4 629 155.7 M625.5 148 Q621.6 139.2 617.9 130.5 M614.6 122.8 Q611 114 607.5 105.3 M604.6 97.6 Q601.2 88.8 598 80.1 M595.3 72.4 Q592.2 63.6 589.3 54.9 M586.7 47.2 Q586.2 45.3 585.6 43.5"/>
<path d="M848 414.2 Q840.3 405.5 832.8 396.7 M826.3 389 Q818.9 380.3 811.8 371.5 M805.6 363.8 Q798.6 355.1 791.8 346.3 M785.9 338.6 Q779.2 329.9 772.8 321.1 M767.2 313.4 Q760.9 304.7 754.8 295.9 M749.5 288.2 Q743.5 279.5 737.8 270.7 M732.8 263 Q727.1 254.3 721.7 245.5 M717 237.8 Q711.6 229.1 706.5 220.3 M702.1 212.6 Q697 203.9 692.2 195.1 M688 187.4 Q683.3 178.7 678.8 169.9 M674.9 162.2 Q670.5 153.5 666.3 144.7 M662.6 137 Q658.5 128.3 654.6 119.5 M651.2 111.8 Q647.3 103.1 643.7 94.3 M640.5 86.6 Q637 77.9 633.6 69.1 M630.7 61.4 Q627.4 52.7 624.3 43.9"/>
<path d="M847.3 352.3 Q840.1 343.6 833.1 334.8 M827 327.1 Q820.1 318.4 813.4 309.6 M807.6 301.9 Q801.1 293.2 794.8 284.4 M789.3 276.7 Q783.1 268 777.1 259.2 M771.9 251.5 Q766 242.8 760.4 234 M755.5 226.3 Q749.9 217.6 744.6 208.8 M740 201.1 Q734.7 192.4 729.7 183.6 M725.4 175.9 Q720.5 167.2 715.8 158.4 M711.7 150.7 Q707 142 702.6 133.2 M698.8 125.5 Q694.5 116.8 690.4 108 M686.8 100.3 Q682.8 91.6 679 82.8 M675.6 75.1 Q671.9 66.4 668.3 57.6 M665.3 49.9 Q664 46.7 662.7 43.5"/>
<path d="M846.6 289.6 Q839.8 280.8 833.3 272.1 M827.7 264.4 Q821.3 255.6 815.1 246.9 M809.7 239.2 Q803.6 230.4 797.8 221.7 M792.7 214 Q787 205.2 781.5 196.5 M776.6 188.8 Q771.2 180 766 171.3 M761.5 163.6 Q756.4 154.8 751.5 146.1 M747.3 138.4 Q742.5 129.6 737.9 120.9 M733.9 113.2 Q729.4 104.4 725.1 95.7 M721.4 88 Q717.2 79.2 713.2 70.5 M709.7 62.8 Q705.8 54 702.1 45.3"/>
<path d="M845.9 225.7 Q839.6 216.9 833.6 208.2 M828.4 200.5 Q822.5 191.7 816.8 183 M811.8 175.3 Q806.2 166.5 800.9 157.8 M796.2 150.1 Q790.9 141.3 785.9 132.6 M781.5 124.9 Q776.5 116.1 771.8 107.4 M767.7 99.7 Q763 90.9 758.6 82.2 M754.7 74.5 Q750.3 65.7 746.2 57 M742.6 49.3 Q741.2 46.4 739.9 43.5"/>
<path d="M845.1 160.1 Q839.4 151.4 833.9 142.6 M829.1 134.9 Q823.7 126.2 818.5 117.4 M814 109.7 Q808.9 101 804 92.2 M799.8 84.5 Q795 75.8 790.4 67 M786.4 59.3 Q782.4 51.4 778.5 43.5"/>
<path d="M844.4 92.3 Q839.2 83.5 834.2 74.8 M829.9 67.1 Q825 58.3 820.3 49.6"/>
</g>
<g stroke="#dc8a8a" stroke-width="0.8" fill="none">
<path d="M32 781 Q27.9 772.2 23.9 763.5 M20.5 755.8 Q16.6 747 12.9 738.3 M9.7 730.6 Q6.1 721.9 2.7 713.1 M-0.3 705.4 Q-3.7 696.6 -6.9 687.9 M-9.6 680.2 Q-12.7 671.5 -15.6 662.7 M-18.2 655 Q-21 646.2 -23.7 637.5 M-26 629.8 Q-28.6 621 -31 612.3 M-33.1 604.6 Q-35.4 595.9 -37.6 587.1 M-39.5 579.4 Q-41.6 570.6 -43.5 561.9 M-45.2 554.2 Q-47 545.5 -48.7 536.7 M-50.1 529 Q-51.8 520.2 -53.2 511.5 M-54.5 503.8 Q-55.9 495.1 -57.1 486.3 M-58.1 478.6 Q-59.3 469.9 -60.3 461.1 M-61.1 453.4 Q-62.1 444.7 -62.9 435.9 M-63.5 428.2 Q-64.3 419.4 -64.8 410.7 M-65.3 403 Q-65.8 394.2 -66.2 385.5 M-66.5 377.8 Q-66.8 369.1 -67 360.3 M-67.1 352.6 Q-67.2 343.9 -67.1 335.1 M-67.1 327.4 Q-67 318.7 -66.8 309.9 M-66.5 302.2 Q-66.2 293.4 -65.8 284.7 M-65.4 277 Q-64.9 268.2 -64.3 259.5 M-63.8 251.8 Q-63.1 243.1 -62.3 234.3 M-61.6 226.6 Q-60.8 217.9 -59.8 209.1 M-58.9 201.4 Q-57.9 192.6 -56.8 183.9 M-55.7 176.2 Q-54.6 167.5 -53.2 158.7 M-52.1 151 Q-50.7 142.2 -49.2 133.5 M-47.9 125.8 Q-46.4 117.1 -44.7 108.3 M-43.3 100.6 Q-41.6 91.9 -39.8 83.1 M-38.2 75.4 Q-36.3 66.6 -34.4 57.9 M-32.6 50.2 Q-31.9 46.9 -31.1 43.5"/>
<path d="M106.5 781 Q102 772.2 97.6 763.5 M93.8 755.8 Q89.5 747 85.4 738.3 M81.7 730.6 Q77.7 721.9 73.7 713.1 M70.3 705.4 Q66.5 696.6 62.8 687.9 M59.6 680.2 Q56 671.5 52.5 662.7 M49.6 655 Q46.2 646.2 43 637.5 M40.3 629.8 Q37.2 621 34.3 612.3 M31.7 604.6 Q28.9 595.9 26.2 587.1 M23.9 579.4 Q21.4 570.6 18.9 561.9 M16.9 554.2 Q14.5 545.5 12.4 536.7 M10.5 529 Q8.4 520.2 6.5 511.5 M4.8 503.8 Q3 495.1 1.3 486.3 M-0.2 478.6 Q-1.8 469.9 -3.2 461.1 M-4.5 453.4 Q-5.8 444.7 -7.1 435.9 M-8.1 428.2 Q-9.3 419.4 -10.3 410.7 M-11.1 403 Q-12 394.2 -12.8 385.5 M-13.5 377.8 Q-14.2 369.1 -14.8 360.3 M-15.3 352.6 Q-15.8 343.9 -16.1 335.1 M-16.4 327.4 Q-16.7 318.7 -16.9 309.9 M-17 302.2 Q-17.1 293.4 -17 284.7 M-17 277 Q-16.9 268.2 -16.6 259.5 M-16.4 251.8 Q-16.1 243.1 -15.7 234.3 M-15.3 226.6 Q-14.8 217.9 -14.2 209.1 M-13.6 201.4 Q-13 192.6 -12.2 183.9 M-11.5 176.2 Q-10.6 167.5 -9.6 158.7 M-8.8 151 Q-7.7 142.2 -6.6 133.5 M-5.6 125.8 Q-4.4 117.1 -3.1 108.3 M-1.9 100.6 Q-0.5 91.9 1 83.1 M2.3 75.4 Q3.8 66.6 5.5 57.9 M6.9 50.2 Q7.6 46.9 8.3 43.5"/>
<path d="M181 781 Q176.4 772.2 171.8 763.5 M167.8 755.8 Q163.3 747 158.8 738.3 M154.9 730.6 Q150.5 721.9 146.2 713.1 M142.4 705.4 Q138.1 696.6 134 687.9 M130.4 680.2 Q126.4 671.5 122.5 662.7 M119.1 655 Q115.2 646.2 111.6 637.5 M108.4 629.8 Q104.8 621 101.4 612.3 M98.4 604.6 Q95.1 595.9 91.9 587.1 M89.2 579.4 Q86.1 570.6 83.2 561.9 M80.7 554.2 Q77.9 545.5 75.2 536.7 M72.9 529 Q70.4 520.2 68 511.5 M65.9 503.8 Q63.6 495.1 61.4 486.3 M59.6 478.6 Q57.5 469.9 55.6 461.1 M53.9 453.4 Q52.1 444.7 50.4 435.9 M49 428.2 Q47.4 419.4 45.9 410.7 M44.7 403 Q43.3 394.2 42.1 385.5 M41.1 377.8 Q40 369.1 39 360.3 M38.1 352.6 Q37.2 343.9 36.4 335.1 M35.8 327.4 Q35.1 318.7 34.5 309.9 M34 302.2 Q33.5 293.4 33.2 284.7 M32.9 277 Q32.6 268.2 32.5 259.5 M32.4 251.8 Q32.3 243.1 32.3 234.3 M32.4 226.6 Q32.5 217.9 32.8 209.1 M33 201.4 Q33.3 192.6 33.7 183.9 M34.1 176.2 Q34.6 167.5 35.3 158.7 M35.8 151 Q36.5 142.2 37.3 133.5 M38 125.8 Q38.9 117.1 39.9 108.3 M40.8 100.6 Q41.8 91.9 43 83.1 M44 75.4 Q45.2 66.6 46.5 57.9 M47.7 50.2 Q48.2 46.9 48.8 43.5"/>
<path d="M255.5 781 Q251.3 772.2 246.9 763.5 M243 755.8 Q238.6 747 234.2 738.3 M230.2 730.6 Q225.8 721.9 221.3 713.1 M217.4 705.4 Q212.9 696.6 208.5 687.9 M204.7 680.2 Q200.3 671.5 196 662.7 M192.3 655 Q188.1 646.2 184 637.5 M180.4 629.8 Q176.4 621 172.5 612.3 M169.1 604.6 Q165.3 595.9 161.7 587.1 M158.5 579.4 Q154.9 570.6 151.5 561.9 M148.6 554.2 Q145.3 545.5 142.1 536.7 M139.4 529 Q136.3 520.2 133.4 511.5 M130.9 503.8 Q128.1 495.1 125.4 486.3 M123.1 478.6 Q120.6 469.9 118.2 461.1 M116.1 453.4 Q113.8 444.7 111.7 435.9 M109.8 428.2 Q107.7 419.4 105.8 410.7 M104.2 403 Q102.3 394.2 100.7 385.5 M99.2 377.8 Q97.6 369.1 96.2 360.3 M95 352.6 Q93.6 343.9 92.4 335.1 M91.4 327.4 Q90.2 318.7 89.2 309.9 M88.4 302.2 Q87.5 293.4 86.7 284.7 M86.1 277 Q85.4 268.2 84.8 259.5 M84.3 251.8 Q83.9 243.1 83.5 234.3 M83.2 226.6 Q82.9 217.9 82.8 209.1 M82.7 201.4 Q82.6 192.6 82.7 183.9 M82.7 176.2 Q82.8 167.5 83.1 158.7 M83.3 151 Q83.6 142.2 84.1 133.5 M84.5 125.8 Q85 117.1 85.6 108.3 M86.2 100.6 Q86.9 91.9 87.7 83.1 M88.4 75.4 Q89.3 66.6 90.3 57.9 M91.2 50.2 Q91.6 46.9 92 43.5"/>
<path d="M330 781 Q326.7 772.2 323.1 763.5 M320 755.8 Q316.3 747 312.4 738.3 M309 730.6 Q305 721.9 300.9 713.1 M297.2 705.4 Q293 696.6 288.8 687.9 M285 680.2 Q280.7 671.5 276.3 662.7 M272.5 655 Q268.2 646.2 263.8 637.5 M260 629.8 Q255.7 621 251.5 612.3 M247.8 604.6 Q243.6 595.9 239.6 587.1 M236 579.4 Q232 570.6 228.1 561.9 M224.7 554.2 Q220.9 545.5 217.2 536.7 M214 529 Q210.4 520.2 207 511.5 M204 503.8 Q200.7 495.1 197.5 486.3 M194.7 478.6 Q191.6 469.9 188.7 461.1 M186.2 453.4 Q183.3 444.7 180.7 435.9 M178.3 428.2 Q175.7 419.4 173.3 410.7 M171.2 403 Q168.9 394.2 166.7 385.5 M164.8 377.8 Q162.7 369.1 160.7 360.3 M159.1 352.6 Q157.2 343.9 155.5 335.1 M154 327.4 Q152.4 318.7 150.9 309.9 M149.7 302.2 Q148.3 293.4 147 284.7 M146 277 Q144.8 268.2 143.8 259.5 M142.9 251.8 Q142 243.1 141.2 234.3 M140.5 226.6 Q139.8 217.9 139.2 209.1 M138.7 201.4 Q138.2 192.6 137.8 183.9 M137.5 176.2 Q137.2 167.5 137 158.7 M136.9 151 Q136.8 142.2 136.8 133.5 M136.9 125.8 Q137 117.1 137.2 108.3 M137.4 100.6 Q137.7 91.9 138.1 83.1 M138.5 75.4 Q139 66.6 139.6 57.9 M140.1 50.2 Q140.4 46.9 140.6 43.5"/>
<path d="M404.5 781 Q402.7 772.2 400.5 763.5 M398.6 755.8 Q396.4 747 393.8 738.3 M391.5 730.6 Q388.8 721.9 385.8 713.1 M383.1 705.4 Q380 696.6 376.6 687.9 M373.6 680.2 Q370.1 671.5 366.4 662.7 M363.1 655 Q359.3 646.2 355.4 637.5 M351.8 629.8 Q347.8 621 343.7 612.3 M340 604.6 Q335.9 595.9 331.7 587.1 M328 579.4 Q323.8 570.6 319.6 561.9 M315.9 554.2 Q311.8 545.5 307.7 536.7 M304.1 529 Q300.1 520.2 296.1 511.5 M292.7 503.8 Q288.8 495.1 285.1 486.3 M281.8 478.6 Q278.1 469.9 274.6 461.1 M271.5 453.4 Q268.1 444.7 264.8 435.9 M261.9 428.2 Q258.7 419.4 255.7 410.7 M253 403 Q250.1 394.2 247.3 385.5 M244.9 377.8 Q242.1 369.1 239.6 360.3 M237.4 352.6 Q234.9 343.9 232.6 335.1 M230.6 327.4 Q228.4 318.7 226.4 309.9 M224.6 302.2 Q222.6 293.4 220.8 284.7 M219.2 277 Q217.5 268.2 215.9 259.5 M214.6 251.8 Q213.1 243.1 211.7 234.3 M210.6 226.6 Q209.3 217.9 208.2 209.1 M207.2 201.4 Q206.1 192.6 205.2 183.9 M204.5 176.2 Q203.6 167.5 203 158.7 M202.4 151 Q201.8 142.2 201.3 133.5 M200.9 125.8 Q200.5 117.1 200.2 108.3 M200 100.6 Q199.8 91.9 199.7 83.1 M199.7 75.4 Q199.7 66.6 199.8 57.9 M200 50.2 Q200.1 46.9 200.2 43.5"/>
<path d="M479 781 Q478.8 772.2 478.4 763.5 M478 755.8 Q477.5 747 476.8 738.3 M476.1 730.6 Q475.3 721.9 474.2 713.1 M473.1 705.4 Q471.9 696.6 470.4 687.9 M469 680.2 Q467.3 671.5 465.4 662.7 M463.6 655 Q461.5 646.2 459.1 637.5 M456.9 629.8 Q454.4 621 451.5 612.3 M449 604.6 Q446 595.9 442.8 587.1 M439.9 579.4 Q436.5 570.6 433 561.9 M429.8 554.2 Q426.1 545.5 422.3 536.7 M418.9 529 Q415 520.2 411.1 511.5 M407.6 503.8 Q403.6 495.1 399.5 486.3 M396 478.6 Q392 469.9 388 461.1 M384.5 453.4 Q380.5 444.7 376.6 435.9 M373.3 428.2 Q369.4 419.4 365.7 410.7 M362.4 403 Q358.8 394.2 355.3 385.5 M352.2 377.8 Q348.7 369.1 345.4 360.3 M342.6 352.6 Q339.3 343.9 336.3 335.1 M333.6 327.4 Q330.6 318.7 327.8 309.9 M325.3 302.2 Q322.6 293.4 320 284.7 M317.8 277 Q315.3 268.2 313 259.5 M310.9 251.8 Q308.7 243.1 306.6 234.3 M304.8 226.6 Q302.8 217.9 301 209.1 M299.4 201.4 Q297.6 192.6 296 183.9 M294.6 176.2 Q293.1 167.5 291.7 158.7 M290.5 151 Q289.2 142.2 288.1 133.5 M287.1 125.8 Q286 117.1 285.1 108.3 M284.3 100.6 Q283.4 91.9 282.7 83.1 M282.1 75.4 Q281.5 66.6 281 57.9 M280.6 50.2 Q280.4 46.9 280.2 43.5"/>
<path d="M553.5 781 Q554.8 772.2 556 763.5 M557 755.8 Q558.1 747 559.1 738.3 M560 730.6 Q560.9 721.9 561.7 713.1 M562.4 705.4 Q563.2 696.6 563.8 687.9 M564.2 680.2 Q564.8 671.5 565.1 662.7 M565.3 655 Q565.6 646.2 565.6 637.5 M565.6 629.8 Q565.5 621 565.2 612.3 M564.9 604.6 Q564.4 595.9 563.8 587.1 M563.1 579.4 Q562.3 570.6 561.2 561.9 M560.2 554.2 Q558.9 545.5 557.4 536.7 M555.9 529 Q554.3 520.2 552.2 511.5 M550.4 503.8 Q548.3 495.1 545.8 486.3 M543.6 478.6 Q541 469.9 538.1 461.1 M535.5 453.4 Q532.4 444.7 529.2 435.9 M526.3 428.2 Q522.9 419.4 519.4 410.7 M516.2 403 Q512.6 394.2 508.9 385.5 M505.6 377.8 Q501.9 369.1 498.1 360.3 M494.8 352.6 Q491 343.9 487.2 335.1 M483.9 327.4 Q480.2 318.7 476.5 309.9 M473.3 302.2 Q469.7 293.4 466.1 284.7 M463.1 277 Q459.6 268.2 456.3 259.5 M453.4 251.8 Q450.1 243.1 447 234.3 M444.3 226.6 Q441.3 217.9 438.4 209.1 M435.9 201.4 Q433.1 192.6 430.5 183.9 M428.2 176.2 Q425.7 167.5 423.3 158.7 M421.2 151 Q418.9 142.2 416.7 133.5 M414.9 125.8 Q412.8 117.1 410.9 108.3 M409.3 100.6 Q407.4 91.9 405.8 83.1 M404.3 75.4 Q402.7 66.6 401.3 57.9 M400.1 50.2 Q399.5 46.9 399 43.5"/>
<path d="M628 781 Q630.4 772.2 632.7 763.5 M634.7 755.8 Q637.1 747 639.4 738.3 M641.4 730.6 Q643.6 721.9 645.9 713.1 M647.8 705.4 Q650.1 696.6 652.2 687.9 M654.1 680.2 Q656.3 671.5 658.3 662.7 M660.2 655 Q662.2 646.2 664.2 637.5 M665.9 629.8 Q667.9 621 669.8 612.3 M671.4 604.6 Q673.2 595.9 675 587.1 M676.5 579.4 Q678.2 570.6 679.7 561.9 M681.1 554.2 Q682.6 545.5 684 536.7 M685.2 529 Q686.6 520.2 687.8 511.5 M688.8 503.8 Q689.9 495.1 690.8 486.3 M691.6 478.6 Q692.5 469.9 693.1 461.1 M693.7 453.4 Q694.2 444.7 694.6 435.9 M694.8 428.2 Q695 419.4 695 410.7 M694.9 403 Q694.8 394.2 694.3 385.5 M693.9 377.8 Q693.3 369.1 692.4 360.3 M691.6 352.6 Q690.5 343.9 689.2 335.1 M687.9 327.4 Q686.4 318.7 684.5 309.9 M682.8 302.2 Q680.8 293.4 678.5 284.7 M676.4 277 Q673.9 268.2 671.2 259.5 M668.7 251.8 Q665.9 243.1 662.8 234.3 M660 226.6 Q656.9 217.9 653.6 209.1 M650.6 201.4 Q647.3 192.6 643.8 183.9 M640.8 176.2 Q637.3 167.5 633.9 158.7 M630.8 151 Q627.4 142.2 624 133.5 M621 125.8 Q617.6 117.1 614.4 108.3 M611.5 100.6 Q608.3 91.9 605.2 83.1 M602.6 75.4 Q599.5 66.6 596.7 57.9 M594.2 50.2 Q593.1 46.9 592 43.5"/>
<path d="M702.5 781 Q705.6 772.2 708.6 763.5 M711.3 755.8 Q714.4 747 717.5 738.3 M720.2 730.6 Q723.3 721.9 726.4 713.1 M729.1 705.4 Q732.2 696.6 735.3 687.9 M738.1 680.2 Q741.2 671.5 744.3 662.7 M747 655 Q750.1 646.2 753.3 637.5 M756 629.8 Q759.1 621 762.2 612.3 M764.9 604.6 Q768 595.9 771.1 587.1 M773.9 579.4 Q776.9 570.6 780 561.9 M782.7 554.2 Q785.8 545.5 788.9 536.7 M791.5 529 Q794.6 520.2 797.6 511.5 M800.3 503.8 Q803.3 495.1 806.3 486.3 M808.9 478.6 Q811.9 469.9 814.8 461.1 M817.4 453.4 Q820.3 444.7 823.2 435.9 M825.8 428.2 Q828.6 419.4 831.4 410.7 M833.9 403 Q836.7 394.2 839.5 385.5 M841.9 377.8 Q844.6 369.1 847.2 360.3 M849.5 352.6 Q852.1 343.9 854.7 335.1 M856.9 327.4 Q859.4 318.7 861.8 309.9 M863.9 302.2 Q866.3 293.4 868.5 284.7 M870.5 277 Q872.7 268.2 874.7 259.5 M876.5 251.8 Q878.6 243.1 880.4 234.3 M882.1 226.6 Q883.9 217.9 885.5 209.1 M886.9 201.4 Q888.4 192.6 889.8 183.9 M891 176.2 Q892.2 167.5 893.3 158.7 M894.1 151 Q895.1 142.2 895.7 133.5 M896.3 125.8 Q896.8 117.1 897.1 108.3 M897.2 100.6 Q897.4 91.9 897.2 83.1 M896.9 75.4 Q896.6 66.6 895.9 57.9 M895.2 50.2 Q894.9 46.9 894.5 43.5"/>
<path d="M777 781 Q780.4 772.2 783.9 763.5 M787 755.8 Q790.5 747 794 738.3 M797.1 730.6 Q800.6 721.9 804.2 713.1 M807.3 705.4 Q810.9 696.6 814.5 687.9 M817.7 680.2 Q821.3 671.5 824.9 662.7 M828.1 655 Q831.7 646.2 835.4 637.5 M838.6 629.8 Q842.3 621 846 612.3 M849.3 604.6 Q853 595.9 856.7 587.1 M860 579.4 Q863.8 570.6 867.5 561.9 M870.8 554.2 Q874.6 545.5 878.4 536.7 M881.7 529 Q885.5 520.2 889.3 511.5 M892.7 503.8 Q896.5 495.1 900.4 486.3 M903.8 478.6 Q907.6 469.9 911.5 461.1 M914.9 453.4 Q918.7 444.7 922.6 435.9 M926 428.2 Q929.9 419.4 933.8 410.7 M937.3 403 Q941.2 394.2 945.1 385.5 M948.5 377.8 Q952.4 369.1 956.4 360.3 M959.8 352.6 Q963.8 343.9 967.7 335.1 M971.2 327.4 Q975.1 318.7 979.1 309.9 M982.5 302.2 Q986.5 293.4 990.4 284.7 M993.9 277 Q997.9 268.2 1001.8 259.5 M1005.3 251.8 Q1009.3 243.1 1013.2 234.3 M1016.7 226.6 Q1020.6 217.9 1024.6 209.1 M1028.1 201.4 Q1032 192.6 1035.9 183.9 M1039.4 176.2 Q1043.3 167.5 1047.3 158.7 M1050.7 151 Q1054.6 142.2 1058.5 133.5 M1062 125.8 Q1065.9 117.1 1069.7 108.3 M1073.2 100.6 Q1077 91.9 1080.9 83.1 M1084.3 75.4 Q1088.1 66.6 1091.9 57.9 M1095.3 50.2 Q1096.7 46.9 1098.2 43.5"/>
</g>
</g>
<g clip-path="url(#pc)" fill="none" stroke-linejoin="round" stroke-linecap="round">
<path d="M720.6 43 L460.7 304 L465 350 L473.2 439 L478.9 483.7 L486.5 559 L494.7 620 L498 651 L502.5 687 L509 742.5 L511.4 778 L514.7 791 L516.6 797" stroke="#808080" stroke-width="1.6"/>
<path d="M279 43 C279.6 47.8 278.4 46 280.8 57.3 C283.2 68.6 282 63.3 286.1 76.9 C290.2 90.5 288.5 85.2 293.2 98.2 C297.9 111.2 295.3 104.7 300.3 116 C305.3 127.3 302.4 120.7 308.3 132 C314.2 143.3 311.9 139.1 318.1 149.8 C324.3 160.5 321.7 155.7 327 164 C332.3 172.3 330.3 166 334.1 174.7 C337.9 183.4 334.2 174.7 338.5 190 C342.8 205.3 339.6 204.6 347.1 220.6 C354.6 236.6 351 222.8 361 238 C371 253.2 367.1 248.7 377 266.3 C386.9 283.9 383 273.9 390.7 290.8 C398.4 307.7 393.2 301.6 400 317 C406.8 332.4 404.1 324 411 337 C417.9 350 414.4 342.8 420.6 356 C426.8 369.2 422.1 362.2 429.7 376.5 C437.3 390.8 436.2 385.6 443.3 398.8 C450.4 412 445.6 404.4 451 416 C456.4 427.6 453.1 420.5 459.4 433.5 C465.7 446.5 462.6 439.5 470 455 C477.4 470.5 473.4 465 481.7 480 C490 495 474.6 468.3 495 500 C515.4 531.7 517.4 536.1 543 575 C568.6 613.9 549.5 586 571.7 616.7 C593.9 647.4 584.6 634.7 609.5 667 C634.4 699.3 622.3 684.2 646.5 713.5 C670.7 742.8 670.2 741.2 682 755" stroke="#ffff90" stroke-width="1.2"/>
<path d="M438.8 748.2 L550.5 637.7" stroke="url(#gr)" stroke-width="6" stroke-linecap="round"/>
<path d="M515.1 43.4 C512.8 46.1 474.7 91.1 470 96.8 C465.3 102.5 425.8 152.6 422 157.4 C418.2 162.2 397.2 190.3 395 193.4 C392.8 196.5 378.6 217.6 377 220 C375.4 222.4 363.8 239.5 362.1 241.8 C360.4 244.1 344.3 263.1 342.3 265.5 C340.3 267.9 323.2 287.1 321.5 289.3 C319.8 291.5 309.1 306.8 307.6 309.1 C306.1 311.4 293.1 332.9 291.8 334.9 C290.5 336.9 282.5 347.6 281.9 348.7 C281.3 349.8 280.1 356.2 280 357 C279.9 357.8 278.4 364.4 278.9 365.5 C279.4 366.6 288.3 378.3 289.8 380 C291.3 381.7 307.3 398 308.5 399.7 C309.7 401.4 313.6 413.2 313.9 414.7 C314.2 416.1 313.2 427.3 313.9 428.7 C314.6 430.1 325.7 441.7 328 443 C330.3 444.3 357 454.1 359.4 455.4 C361.8 456.7 374.1 466.4 375.7 468.7 C377.3 471 389.6 497.2 391.5 501.7 C393.4 506.2 413.1 555.1 414.6 559.4 C416.1 563.6 419.9 584.3 420.6 586.7 C421.3 589.1 428.3 605.3 428.8 607 C429.3 608.7 429.9 619.4 430.1 620.7 C430.3 622 432.9 631.5 433.4 633 C433.9 634.5 439.3 649.1 440 651 C440.7 652.9 446.4 669.3 446.8 671 C447.2 672.7 448.9 683.4 449 684.6 C449.1 685.9 449.1 694.8 449 696 C448.9 697.2 446.9 707.9 446.8 709 C446.7 710.1 448 717.1 447.9 718 C447.8 718.9 446.1 726 445.7 727 C445.3 728 440.5 736.9 440 738 C439.5 739.1 436 748.5 435.6 749.5 C435.2 750.5 431.6 757.3 431.2 758.1 C430.8 758.9 427.3 764.1 426.7 764.8 C426.1 765.5 420.4 770.8 420 771.4 C419.6 772 418.4 776.5 418.3 777 C418.2 777.5 418.3 780.6 418.3 780.8" stroke="#e00f0f" stroke-width="2"/>
<path d="M720.6 43 C719.9 44 707.6 61 705.6 63.4 C703.6 65.8 682.9 87.1 680.5 90.1 C678.1 93.1 659.4 119.8 657.1 123.5 C654.8 127.2 635.8 160.2 633.7 163.6 C631.6 167 617.3 189.2 615.4 192 C613.5 194.8 597.6 215.9 595.3 218.8 C593 221.7 572.7 247.4 570.2 250.5 C567.7 253.6 548.4 277 546 280 C543.6 283 523.6 306.9 521.3 309.7 C518.9 312.5 501 333.2 499 335.7 C497 338.2 483.2 357.3 481.7 359.2 C480.2 361.1 470 370.9 468.1 372.8 C466.2 374.7 445.4 394.2 443.3 396.3 C441.2 398.4 427.4 413.2 426 414.9 C424.6 416.6 416.8 428.4 416.1 429.8 C415.4 431.2 411.5 442.1 411.1 443.4 C410.7 444.7 409 454.5 408.7 455.7 C408.4 456.9 404.7 466 405.2 468.1 C405.7 470.2 416.7 495.4 417.9 498.6 C419.1 501.8 427.8 528.6 428.8 531.6 C429.8 534.6 436.4 556.8 437 559.4 C437.6 562 439.8 581 440.2 583.4 C440.6 585.8 444 605.2 444.3 607 C444.6 608.8 445.5 618.7 445.7 620 C445.9 621.3 447.6 631.1 447.9 633 C448.2 634.9 451.9 655.6 452.3 658 C452.7 660.4 454.9 678.4 455 680 C455.1 681.6 454.8 689.5 454.6 691 C454.4 692.5 451.5 707.5 451.2 709 C450.9 710.5 449.3 718.9 449 720 C448.7 721.1 445.1 730.3 444.5 731.4 C443.9 732.5 438.6 741.3 438 742.5 C437.4 743.7 433.8 754.7 433.4 755.9 C432.9 757.1 429.3 766.1 429 767 C428.7 767.9 428.2 774.2 428.3 774.8 C428.4 775.3 430 777.7 430 778 C430 778.3 428.8 780.5 428.7 780.6" stroke="#000" stroke-width="2"/>
<path d="M427 751 H442.8" stroke="#222" stroke-width="1"/>
</g>
<g clip-path="url(#pc2)" stroke-linecap="butt">
<path d="M735.8 51.7 L713.3 40.7 M713.3 40.7 l-0.4 -10.3 M716.9 42.5 l-0.4 -10.3 M720.5 44.2 l-0.4 -10.3 M724.1 46 l-0.2 -5.2" stroke="#111" stroke-width="1" fill="none"/>
<path d="M735.8 91.3 L711.7 84.5 M711.7 84.5 l-2.2 -10.1 M715.6 85.6 l-2.2 -10.1 M719.4 86.7 l-2.2 -10.1 M723.3 87.8 l-1.1 -5.1" stroke="#111" stroke-width="1" fill="none"/>
<path d="M735.8 127.8 L711.6 121.7 M711.6 121.7 l-2.5 -10 M715.4 122.6 l-2.5 -10 M719.3 123.6 l-2.5 -10 M723.2 124.6 l-1.2 -5" stroke="#111" stroke-width="1" fill="none"/>
<path d="M735.8 160.3 L711.5 154.5 M711.5 154.5 l-2.6 -10 M715.4 155.5 l-2.6 -10 M719.3 156.4 l-2.6 -10 M723.1 157.3 l-1.3 -5" stroke="#111" stroke-width="1" fill="none"/>
<path d="M735.8 190.6 L711.5 184.6 M711.5 184.6 l-2.5 -10 M715.4 185.5 l-2.5 -10 M719.3 186.5 l-2.5 -10 M723.2 187.5 l-1.3 -5" stroke="#111" stroke-width="1" fill="none"/>
<path d="M735.8 218.5 L711.1 214.4 M711.1 214.4 l-3.3 -9.8 M715.1 215.1 l-3.3 -9.8 M719 215.7 l-3.3 -9.8 M723 216.4 l-3.3 -9.8" stroke="#111" stroke-width="1" fill="none"/>
<path d="M735.8 243.5 L710.8 242.2 M710.8 242.2 l-4.4 -9.3 M714.8 242.4 l-4.4 -9.3 M718.8 242.6 l-4.4 -9.3 M722.8 242.8 l-4.4 -9.3 M726.8 243 l-2.2 -4.7" stroke="#111" stroke-width="1" fill="none"/>
<path d="M735.8 265.2 L710.8 264.3 M710.8 264.3 l-4.5 -9.3 M714.8 264.5 l-4.5 -9.3 M718.8 264.6 l-4.5 -9.3 M722.8 264.7 l-4.5 -9.3 M726.8 264.9 l-2.3 -4.7" stroke="#111" stroke-width="1" fill="none"/>
<path d="M735.8 266.5 L710.8 265.8 M710.8 265.8 l-4.6 -9.2 M714.8 266 l-4.6 -9.2 M718.8 266.1 l-4.6 -9.2 M722.8 266.2 l-4.6 -9.2 M726.8 266.3 l-2.3 -4.7" stroke="#111" stroke-width="1" fill="none"/>
<path d="M735.8 267.7 L710.8 267.3 M710.8 267.3 l-4.7 -9.2 M714.8 267.3 l-4.7 -9.2 M718.8 267.4 l-4.7 -9.2 M722.8 267.5 l-4.7 -9.2 M726.8 267.5 l-2.4 -4.6" stroke="#111" stroke-width="1" fill="none"/>
<path d="M735.8 289.9 L710.9 287.9" stroke="#111" stroke-width="1" fill="none"/><path d="M710.9 287.9 L710.4 278.9 L716.4 288.3 Z" fill="#111" stroke="#111" stroke-width="0.6"/>
<path d="M735.8 310.6 L710.9 308.9" stroke="#111" stroke-width="1" fill="none"/><path d="M710.9 308.9 L710.2 300 L716.3 309.3 Z" fill="#111" stroke="#111" stroke-width="0.6"/>
<path d="M735.8 330 L710.8 329.2" stroke="#111" stroke-width="1" fill="none"/><path d="M710.8 329.2 L709.8 320.3 L716.3 329.4 Z" fill="#111" stroke="#111" stroke-width="0.6"/>
<path d="M735.8 349 L710.8 349" stroke="#111" stroke-width="1" fill="none"/><path d="M710.8 349 L709.5 340.1 L716.3 349 Z" fill="#111" stroke="#111" stroke-width="0.6"/>
<path d="M735.8 366.6 L710.8 366.6 M710.8 366.6 l-4.8 -9.1 M714.8 366.6 l-4.8 -9.1 M718.8 366.6 l-4.8 -9.1 M722.8 366.6 l-4.8 -9.1 M726.8 366.6 l-2.4 -4.6" stroke="#111" stroke-width="1" fill="none"/>
<path d="M735.8 383 L710.8 382.1 M710.8 382.1 l-4.5 -9.3 M714.8 382.3 l-4.5 -9.3 M718.8 382.4 l-4.5 -9.3 M722.8 382.5 l-4.5 -9.3 M726.8 382.7 l-2.3 -4.7" stroke="#111" stroke-width="1" fill="none"/>
<path d="M735.8 395.1 L710.8 394.7 M710.8 394.7 l-4.7 -9.2 M714.8 394.7 l-4.7 -9.2 M718.8 394.8 l-4.7 -9.2 M722.8 394.9 l-4.7 -9.2" stroke="#111" stroke-width="1" fill="none"/>
<path d="M735.8 399.1 L710.8 399.1 M710.8 399.1 l-4.8 -9.1 M714.8 399.1 l-4.8 -9.1 M718.8 399.1 l-4.8 -9.1 M722.8 399.1 l-4.8 -9.1" stroke="#111" stroke-width="1" fill="none"/>
<path d="M735.8 414.4 L710.8 414.4 M710.8 414.4 l-4.8 -9.1 M714.8 414.4 l-4.8 -9.1 M718.8 414.4 l-4.8 -9.1 M722.8 414.4 l-2.4 -4.6" stroke="#111" stroke-width="1" fill="none"/>
<path d="M735.8 428.7 L710.8 428.7 M710.8 428.7 l-4.8 -9.1 M714.8 428.7 l-4.8 -9.1 M718.8 428.7 l-4.8 -9.1" stroke="#111" stroke-width="1" fill="none"/>
<path d="M735.8 442.6 L711 445.5 M711 445.5 l-5.9 -8.5 M714.9 445.1 l-5.9 -8.5" stroke="#111" stroke-width="1" fill="none"/>
<path d="M735.8 455.6 L713.1 466.2 M713.1 466.2 l-8.2 -6.2 M716.8 464.5 l-4.2 -3.1" stroke="#111" stroke-width="1" fill="none"/>
<path d="M735.8 468.9 L710.9 471.5 M714.9 471.1 l-2.9 -4.3" stroke="#111" stroke-width="1" fill="none"/>
<path d="M735.8 480.5 L711.5 474.5 M715.4 475.4 l-1.3 -5" stroke="#111" stroke-width="1" fill="none"/>
<path d="M735.8 486.7 L713.3 475.7 M716.9 477.5 l-0.2 -5.2" stroke="#111" stroke-width="1" fill="none"/>
<path d="M735.8 492.5 L714.8 478.9 M718.2 481.1 l0.5 -5.2" stroke="#111" stroke-width="1" fill="none"/>
<path d="M735.8 503.2 L713.3 492.2 M713.3 492.2 l-0.4 -10.3" stroke="#111" stroke-width="1" fill="none"/>
<path d="M735.8 513.6 L711.3 508.4 M711.3 508.4 l-2.8 -9.9" stroke="#111" stroke-width="1" fill="none"/>
<path d="M735.8 523.8 L710.8 522.5 M714.8 522.7 l-2.2 -4.7" stroke="#111" stroke-width="1" fill="none"/>
<path d="M735.8 533.5 L710.9 535.2 M710.9 535.2 l-5.5 -8.7" stroke="#111" stroke-width="1" fill="none"/>
<path d="M735.8 543 L710.9 544.7 M710.9 544.7 l-5.5 -8.7" stroke="#111" stroke-width="1" fill="none"/>
<path d="M735.8 552.3 L710.8 552.7 M710.8 552.7 l-5 -9 M714.8 552.7 l-2.5 -4.5" stroke="#111" stroke-width="1" fill="none"/>
<path d="M735.8 558.9 L710.8 558.9 M710.8 558.9 l-4.8 -9.1 M714.8 558.9 l-2.4 -4.6" stroke="#111" stroke-width="1" fill="none"/>
<path d="M735.8 560.3 L710.8 560.7 M710.8 560.7 l-5 -9 M714.8 560.7 l-2.5 -4.5" stroke="#111" stroke-width="1" fill="none"/>
<path d="M735.8 561.8 L710.8 562.2 M710.8 562.2 l-5 -9 M714.8 562.2 l-2.5 -4.5" stroke="#111" stroke-width="1" fill="none"/>
<path d="M735.8 569.4 L710.8 569.8 M710.8 569.8 l-5 -9 M714.8 569.8 l-2.5 -4.5" stroke="#111" stroke-width="1" fill="none"/>
<path d="M735.8 577.5 L711 580.8 M711 580.8 l-6 -8.4 M715 580.2 l-3 -4.2" stroke="#111" stroke-width="1" fill="none"/>
<path d="M735.8 585.9 L713.5 597.2 M713.5 597.2 l-8.4 -5.9 M717.1 595.4 l-4.3 -3" stroke="#111" stroke-width="1" fill="none"/>
<path d="M735.8 593.3 L720.8 613.3 M720.8 613.3 l-10.2 -1.6" stroke="#111" stroke-width="1" fill="none"/>
<path d="M735.8 600.7 L723.7 622.6 M723.7 622.6 l-10.3 -0.2" stroke="#111" stroke-width="1" fill="none"/>
<path d="M735.8 609.2 L724.5 629.9 l-10 -0.4" stroke="#111" stroke-width="1" fill="none"/>
<path d="M735.8 616.2 L724.2 638 l-10 -0.6" stroke="#111" stroke-width="1" fill="none"/>
<path d="M735.8 617.5 L724.2 639.3 l-10 -0.6" stroke="#111" stroke-width="1" fill="none"/>
<path d="M735.8 619.3 L724.1 641 l-10 -0.7" stroke="#111" stroke-width="1" fill="none"/>
<path d="M735.8 623 L723.9 644.4 l-10 -0.8" stroke="#111" stroke-width="1" fill="none"/>
<path d="M735.8 629.8 L723.5 650.4 l-9.9 -1" stroke="#111" stroke-width="1" fill="none"/>
<path d="M735.8 633 L723.3 653.1 l-9.9 -1.1" stroke="#111" stroke-width="1" fill="none"/>
<path d="M735.8 636.6 L723 656.1 l-9.9 -1.3" stroke="#111" stroke-width="1" fill="none"/>
<path d="M735.8 642.8 L722.5 661.1 l-9.9 -1.5" stroke="#111" stroke-width="1" fill="none"/>
<path d="M735.8 649.2 L721.9 666.1 l-9.9 -1.7" stroke="#111" stroke-width="1" fill="none"/>
<path d="M735.8 655.4 L721.2 670.8 l-9.8 -1.9" stroke="#111" stroke-width="1" fill="none"/>
<path d="M735.8 661 L720.6 675 l-9.8 -2.1" stroke="#111" stroke-width="1" fill="none"/>
<path d="M735.8 667.1 L719.9 679.5 l-9.7 -2.3" stroke="#111" stroke-width="1" fill="none"/>
<path d="M735.8 673.3 L719 684 l-9.7 -2.5" stroke="#111" stroke-width="1" fill="none"/>
<path d="M735.8 678.9 L718.2 688.1 l-9.6 -2.6" stroke="#111" stroke-width="1" fill="none"/>
<path d="M735.8 683.2 L717.6 691.1 l-9.6 -2.8" stroke="#111" stroke-width="1" fill="none"/>
<path d="M735.8 687.5 L716.9 694.1 l-9.6 -2.9" stroke="#111" stroke-width="1" fill="none"/>
<path d="M735.8 690.6 L716.4 696.3 l-9.5 -3" stroke="#111" stroke-width="1" fill="none"/>
<path d="M735.8 695.6 L715.5 699.7 l-9.5 -3.2" stroke="#111" stroke-width="1" fill="none"/>
<path d="M735.8 699.3 L714.9 702.3 l-9.4 -3.3" stroke="#111" stroke-width="1" fill="none"/>
<path d="M735.8 701.8 L714.4 704 l-9.4 -3.4" stroke="#111" stroke-width="1" fill="none"/>
<path d="M735.8 703.6 L714.1 705.2 l-9.4 -3.4" stroke="#111" stroke-width="1" fill="none"/>
<path d="M735.8 708.2 L758.8 700" stroke="#111" stroke-width="1" fill="none"/>
<path d="M735.8 711.7 L758.8 703.6 M755 704.9 l3.8 3.5" stroke="#111" stroke-width="1" fill="none"/>
<path d="M735.8 716 L760 712.3 M756.1 712.9 l3.1 4.2" stroke="#111" stroke-width="1" fill="none"/>
<path d="M735.2 781.1 L756.9 767.7" stroke="#c42222" stroke-width="0.85" fill="none"/>
<path d="M735.2 780.7 L757 767.6" stroke="#c42222" stroke-width="0.85" fill="none"/>
<path d="M735.2 779.3 L757.7 767.2 M757.7 767.2 l10 6.7 M754.1 769.1 l10 6.7 M750.6 771 l10 6.7 M747.1 772.9 l4.3 2.9" stroke="#111" stroke-width="0.85" fill="none"/>
<path d="M735.2 777.8 L758.2 766.9 M758.2 766.9 l9.6 7.2 M754.6 768.6 l9.6 7.2 M751 770.3 l9.6 7.2 M747.4 772.1 l4.2 3.1" stroke="#111" stroke-width="0.85" fill="none"/>
<path d="M735.2 776.4 L758.7 766.6 M758.7 766.6 l9.3 7.6 M755.1 768.1 l9.3 7.6 M751.4 769.7 l9.3 7.6 M747.7 771.2 l4 3.3" stroke="#111" stroke-width="0.85" fill="none"/>
<path d="M735.2 774.9 L759.2 766.3 M759.2 766.3 l8.9 8.1 M755.4 767.7 l8.9 8.1 M751.7 769 l8.9 8.1 M747.9 770.4 l3.8 3.5" stroke="#111" stroke-width="0.85" fill="none"/>
<path d="M735.2 773.5 L759.6 766.1 M759.6 766.1 l8.5 8.5 M755.8 767.3 l8.5 8.5 M751.9 768.4 l8.5 8.5 M748.1 769.6 l3.7 3.7" stroke="#111" stroke-width="0.85" fill="none"/>
<path d="M735.2 772 L759.9 765.9 M759.9 765.9 l8 8.9 M756.1 766.8 l8 8.9 M752.2 767.8 l8 8.9 M748.3 768.8 l3.5 3.9" stroke="#111" stroke-width="0.85" fill="none"/>
<path d="M735.2 770.6 L760.2 765.7 M760.2 765.7 l7.6 9.3 M756.3 766.4 l7.6 9.3 M752.4 767.2 l7.6 9.3 M748.4 768 l3.3 4" stroke="#111" stroke-width="0.85" fill="none"/>
<path d="M735.2 769.1 L760.4 765.5 M760.4 765.5 l7.1 9.7 M756.5 766 l7.1 9.7 M752.5 766.6 l7.1 9.7 M748.6 767.2 l3.1 4.2" stroke="#111" stroke-width="0.85" fill="none"/>
<path d="M735.2 767.7 L760.6 765.3 M760.6 765.3 l6.6 10 M756.6 765.7 l6.6 10 M752.6 766.1 l6.6 10 M748.6 766.4 l2.9 4.3" stroke="#111" stroke-width="0.85" fill="none"/>
<path d="M735.2 766.2 L760.7 765.1 M760.7 765.1 l6.1 10.3 M756.7 765.3 l6.1 10.3 M752.7 765.5 l6.1 10.3 M748.7 765.7 l2.6 4.5" stroke="#111" stroke-width="0.85" fill="none"/>
<path d="M735.2 764.8 L760.7 765 M760.7 765 l5.6 10.6 M756.7 764.9 l5.6 10.6 M752.7 764.9 l5.6 10.6 M748.7 764.9 l2.4 4.6" stroke="#111" stroke-width="0.85" fill="none"/>
<path d="M735.2 763.3 L760.7 764.8 M760.7 764.8 l5 10.9 M756.7 764.6 l5 10.9 M752.7 764.4 l5 10.9 M748.7 764.1 l2.2 4.7" stroke="#111" stroke-width="0.85" fill="none"/>
<path d="M735.2 761.9 L760.6 764.7 M760.6 764.7 l4.5 11.1 M756.6 764.2 l4.5 11.1 M752.6 763.8 l4.5 11.1 M748.6 763.4 l1.9 4.8" stroke="#111" stroke-width="0.85" fill="none"/>
<path d="M735.2 760.4 L760.4 764.5 M760.4 764.5 l3.9 11.4 M756.4 763.8 l3.9 11.4 M752.5 763.2 l3.9 11.4 M748.5 762.6 l1.7 4.9" stroke="#111" stroke-width="0.85" fill="none"/>
<path d="M735.2 758.9 L760.2 764 M760.2 764 l3.4 11.5 M756.3 763.2 l3.4 11.5 M752.3 762.4 l3.4 11.5 M748.4 761.6 l1.5 5" stroke="#111" stroke-width="0.85" fill="none"/>
<path d="M735.2 757.2 L760 763.3 M760 763.3 l3 11.6 M756.1 762.3 l3 11.6 M752.2 761.4 l3 11.6 M748.3 760.4 l1.3 5" stroke="#111" stroke-width="0.85" fill="none"/>
<path d="M735.2 755.4 L759.7 762.5 M759.7 762.5 l2.5 11.7 M755.9 761.4 l2.5 11.7 M752 760.3 l2.5 11.7 M748.2 759.2 l1.1 5.1" stroke="#111" stroke-width="0.85" fill="none"/>
<path d="M735.2 753.5 L759.4 761.7 M759.4 761.7 l1.7 10.2 M755.6 760.4 l1.7 10.2 M751.8 759.1 l0.8 5.1" stroke="#111" stroke-width="0.85" fill="none"/>
<path d="M735.2 751.4 L758.9 760.7 M758.9 760.7 l1.2 10.2 M755.2 759.3 l1.2 10.2 M751.5 757.8 l0.6 5.2" stroke="#111" stroke-width="0.85" fill="none"/>
<path d="M735.2 749.2 L758.4 759.7 M758.4 759.7 l0.6 10.3 M754.8 758.1 l0.6 10.3 M751.1 756.4 l0.3 5.2" stroke="#111" stroke-width="0.85" fill="none"/>
<path d="M735.2 746.8 L757.8 758.6 M757.8 758.6 l0.1 10.3 M754.2 756.7 l0.1 10.3 M750.7 754.9 l0 5.2" stroke="#111" stroke-width="0.85" fill="none"/>
<path d="M735.2 744.2 L757.1 757.3 M757.1 757.3 l-0.5 10.3 M753.6 755.2 l-0.5 10.3 M750.2 753.2 l-0.3 5.2" stroke="#111" stroke-width="0.85" fill="none"/>
<path d="M735.2 741.4 L756.3 755.8 M756.3 755.8 l-1.1 10.2 M753 753.5 l-1.1 10.2 M749.7 751.3 l-0.6 5.2" stroke="#111" stroke-width="0.85" fill="none"/>
<path d="M735.2 738.4 L755.3 754.1 M755.3 754.1 l-1.8 10.1 M752.2 751.6 l-1.8 10.1 M749 749.2 l-0.9 5.1" stroke="#111" stroke-width="0.85" fill="none"/>
<path d="M735.2 735.2 L754.2 752.2 M754.2 752.2 l-2.5 10 M751.2 749.5 l-2.5 10 M748.2 746.8 l-1.2 5.1" stroke="#111" stroke-width="0.85" fill="none"/>
<path d="M735.2 731.7 L753.6 749.3 M753.6 749.3 l-2.8 9.9 M750.7 746.6 l-1.4 5" stroke="#111" stroke-width="0.85" fill="none"/>
<path d="M735.2 728 L753.1 746.2 M753.1 746.2 l-3.1 9.8 M750.3 743.3 l-1.6 5" stroke="#111" stroke-width="0.85" fill="none"/>
<path d="M735.2 724 L753.1 742.2 M753.1 742.2 l-3.1 9.8" stroke="#111" stroke-width="0.85" fill="none"/>
<path d="M735.2 719.7 L754.4 736.4 M751.4 733.8 l-1.2 5.1" stroke="#111" stroke-width="0.85" fill="none"/>
</g>
<g font-family="Liberation Sans, sans-serif" fill="#111">
<g font-size="11">
<rect x="54" y="330" width="45.5" height="12" fill="#fff"/>
<text x="55" y="340.5">250[hPa]</text>
<rect x="54" y="389" width="45.5" height="12" fill="#fff"/>
<text x="55" y="399.5">300[hPa]</text>
<rect x="54" y="481" width="45.5" height="12" fill="#fff"/>
<text x="55" y="491.5">400[hPa]</text>
<rect x="54" y="552.5" width="45.5" height="12" fill="#fff"/>
<text x="55" y="563">500[hPa]</text>
<rect x="54" y="611" width="45.5" height="12" fill="#fff"/>
<text x="55" y="621.5">600[hPa]</text>
<rect x="54" y="660.5" width="45.5" height="12" fill="#fff"/>
<text x="55" y="671">700[hPa]</text>
<rect x="54" y="722.5" width="45.5" height="12" fill="#fff"/>
<text x="55" y="733">850[hPa]</text>
<rect x="54" y="749.5" width="45.5" height="12" fill="#fff"/>
<text x="55" y="760">925[hPa]</text>
<rect x="54" y="774.5" width="45.5" height="12" fill="#fff"/>
<text x="55" y="785">1000[hPa]</text>
</g>
<g clip-path="url(#pc)">
<rect x="819" y="168" width="18" height="10" fill="#fff"/>
<text x="819.8" y="176.4" font-size="9.4" fill="#000" clip-path="url(#pc3)">43000</text>
<rect x="819" y="260.5" width="18" height="10" fill="#fff"/>
<text x="819.8" y="268.9" font-size="9.4" fill="#000" clip-path="url(#pc3)">37000</text>
<rect x="819" y="331.5" width="18" height="10" fill="#fff"/>
<text x="819.8" y="339.9" font-size="9.4" fill="#000" clip-path="url(#pc3)">32400</text>
<rect x="819" y="390.5" width="18" height="10" fill="#fff"/>
<text x="819.8" y="398.9" font-size="9.4" fill="#000" clip-path="url(#pc3)">28500</text>
<rect x="819" y="482.5" width="18" height="10" fill="#fff"/>
<text x="819.8" y="490.9" font-size="9.4" fill="#000" clip-path="url(#pc3)">22300</text>
<rect x="819" y="554" width="18" height="10" fill="#fff"/>
<text x="819.8" y="562.4" font-size="9.4" fill="#000" clip-path="url(#pc3)">17200</text>
<rect x="819" y="612.5" width="18" height="10" fill="#fff"/>
<text x="819.8" y="620.9" font-size="9.4" fill="#000" clip-path="url(#pc3)">12900</text>
<rect x="819" y="662" width="18" height="10" fill="#fff"/>
<text x="819.8" y="670.4" font-size="9.4" fill="#000" clip-path="url(#pc3)">9100</text>
<rect x="819" y="724" width="18" height="10" fill="#fff"/>
<text x="819.8" y="732.4" font-size="9.4" fill="#000" clip-path="url(#pc3)">4500</text>
<rect x="819" y="751" width="18" height="10" fill="#fff"/>
<text x="819.8" y="759.4" font-size="9.4" fill="#000" clip-path="url(#pc3)">2010</text>
<text x="836.5" y="62.1" text-anchor="end" font-size="8.7">-40</text>
<text x="836.5" y="136.6" text-anchor="end" font-size="8.7">-30</text>
<text x="836.5" y="211.1" text-anchor="end" font-size="8.7">-20</text>
<text x="836.5" y="285.6" text-anchor="end" font-size="8.7">-10</text>
<text x="836.5" y="356.7" text-anchor="end" font-size="8.7">0</text>
<text x="836.5" y="434.6" text-anchor="end" font-size="8.7">10</text>
<text x="836.5" y="509.1" text-anchor="end" font-size="8.7">20</text>
<text x="836.5" y="583.6" text-anchor="end" font-size="8.7">30</text>
<text x="836.5" y="658.1" text-anchor="end" font-size="8.7">40</text>
<text x="836.5" y="732.6" text-anchor="end" font-size="8.7">50</text>
</g>
<g font-size="9.3" text-anchor="middle">
<text x="173" y="794.6">-30</text>
<text x="247.5" y="794.6">-20</text>
<text x="322" y="794.6">-10</text>
<text x="396.5" y="794.6">0</text>
<text x="471" y="794.6">10</text>
<text x="545.5" y="794.6">20</text>
<text x="620" y="794.6">30</text>
<text x="694.5" y="794.6">40</text>
<text x="769" y="794.6">50</text>
</g>
<g font-size="9" text-anchor="middle">
<text transform="translate(209.6 791.5) rotate(-58)" x="0" y="3">0.5</text>
<text transform="translate(269.2 791.5) rotate(-58)" x="0" y="3">1</text>
<text transform="translate(333.3 791.5) rotate(-58)" x="0" y="3">2</text>
<text transform="translate(402.4 791.5) rotate(-58)" x="0" y="3">4</text>
<text transform="translate(477.3 791.5) rotate(-58)" x="0" y="3">8</text>
<text transform="translate(558.5 791.5) rotate(-58)" x="0" y="3">16</text>
<text transform="translate(647 791.5) rotate(-58)" x="0" y="3">32</text>
<text transform="translate(743.8 791.5) rotate(-58)" x="0" y="3">64</text>
</g>
<g font-size="9" text-anchor="middle">
<text transform="translate(82.9 733) rotate(64.8)" x="0" y="3.4">-40</text>
<text transform="translate(132.2 684) rotate(65)" x="0" y="3.4">-30</text>
<text transform="translate(181.9 633) rotate(65.2)" x="0" y="3.4">-20</text>
<text transform="translate(235.7 579) rotate(65.4)" x="0" y="3.4">-10</text>
<text transform="translate(297.8 515.3) rotate(65.7)" x="0" y="3.4">0</text>
<text transform="translate(378.9 441.2) rotate(65.9)" x="0" y="3.4">10</text>
<text transform="translate(486.4 333) rotate(66.8)" x="0" y="3.4">20</text>
<text transform="translate(642.2 179.3) rotate(68.6)" x="0" y="3.4">30</text>
</g>
</g>
</svg>
<div id="box"></div>
<span class="t k" style="left:58.1px;top:63.73px;letter-spacing:-0.596px">Name</span>
<span class="t v" style="left:131.9px;top:63.73px;letter-spacing:-0.110px">Keflavíkurflugvöllur</span>
<span class="t k" style="left:58.1px;top:78.73px;letter-spacing:-0.325px">Position</span>
<span class="t v" style="left:131.9px;top:78.73px;letter-spacing:-0.025px">63°59'N 22°36'W</span>
<span class="t k" style="left:58.1px;top:93.73px;letter-spacing:-0.268px">Elevation</span>
<span class="t v" style="left:131.9px;top:93.73px;letter-spacing:0.062px">105ft</span>
<span class="t k" style="left:58.1px;top:108.73px;letter-spacing:-0.781px">KINX</span>
<span class="t v r" style="left:131.9px;top:108.73px;letter-spacing:-0.290px">21.3</span>
<span class="t k" style="left:58.1px;top:123.73px;letter-spacing:-1.382px">CTOT</span>
<span class="t v r" style="left:131.9px;top:123.73px;letter-spacing:-0.156px">24.0</span>
<span class="t k" style="left:58.1px;top:138.73px;letter-spacing:-1.195px">VTOT</span>
<span class="t v r" style="left:131.9px;top:138.73px;letter-spacing:-0.156px">24.3</span>
<span class="t k" style="left:58.1px;top:153.73px;letter-spacing:-1.413px">TTOT</span>
<span class="t v r" style="left:131.9px;top:153.73px;letter-spacing:-0.156px">48.3</span>
<span class="t k" style="left:58.1px;top:168.73px;letter-spacing:-1.170px">SHOW</span>
<span class="t v" style="left:131.9px;top:168.73px;letter-spacing:-0.253px">6.4</span>
<span class="t k" style="left:58.1px;top:183.73px;letter-spacing:-1.194px">MAXT</span>
<span class="t v" style="left:131.9px;top:183.73px;letter-spacing:0.009px">11.5°C</span>
<span class="t k" style="left:58.1px;top:198.73px;letter-spacing:-1.109px">WBZ</span>
<span class="t v r" style="left:131.9px;top:198.73px;letter-spacing:0.037px">2355ft</span>
<span class="t k" style="left:58.1px;top:213.73px;letter-spacing:-1.194px">PWAT</span>
<span class="t v" style="left:131.9px;top:213.73px;letter-spacing:0.228px">14.9 kg/m²</span>
<span class="t k" style="left:58.1px;top:228.73px;letter-spacing:-1.107px">SWEAT</span>
<span class="t v" style="left:131.9px;top:228.73px;letter-spacing:-0.694px">171</span>
<span class="t k" style="left:58.1px;top:243.73px;letter-spacing:-0.154px">Zero Degree (A)</span>
<span class="t v" style="left:131.9px;top:243.73px;letter-spacing:-0.023px">2420ft</span>
<span class="t k" style="left:58.1px;top:258.74px;letter-spacing:-0.613px">TROPO(A)</span>
<span class="t v" style="left:131.9px;top:258.74px;letter-spacing:-0.029px">69660ft</span>
<span class="t k" style="left:58.1px;top:273.74px;letter-spacing:-0.613px">TROPO(B)</span>
<span class="t v" style="left:131.9px;top:273.74px;letter-spacing:-0.029px">75535ft</span>
<span class="t ttl" style="left:56px;top:47.57px;letter-spacing:-0.241px">Sounding Indices</span>
<div id="foot">
<svg width="30" height="29" viewBox="0 0 30 29" style="left:0;top:0">
<path d="M15.2 5.7 L15.2 12.1 L19 8.9 Z" fill="#b9c6d8"/>
<path d="M8 16.9 L15 16.9 L11.8 12.9 Z" fill="#8fa3bf"/>
<path d="M18.8 12.9 L26 12.9 L22.4 17.1 Z" fill="#1c4673"/>
<path d="M18.8 17.3 L18.8 23.7 L14.6 20.5 Z" fill="#4a6c98"/>
</svg>
<div class="n">Veðurstofa<br>Íslands</div><div class="sep"></div><div class="d">Sun. 26 Okt. 03:00</div></div>
</body></html>
